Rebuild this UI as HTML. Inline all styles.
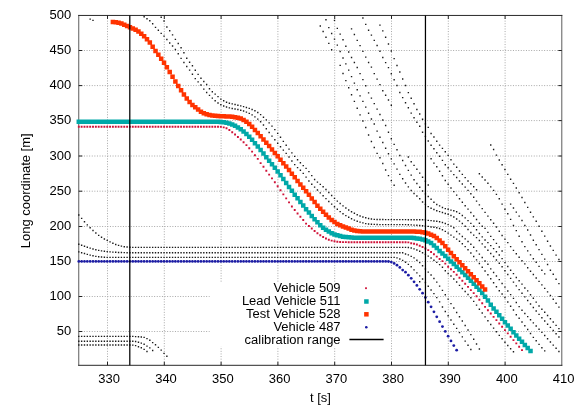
<!DOCTYPE html>
<html><head><meta charset="utf-8"><title>plot</title>
<style>html,body{margin:0;padding:0;background:#fff;}body{width:581px;height:407px;overflow:hidden;font-family:"Liberation Sans",sans-serif;}</style>
</head><body>
<svg width="581" height="407" viewBox="0 0 581 407" style="display:block;will-change:transform">
<rect x="0" y="0" width="581" height="407" fill="#fff"/>
<g stroke="#a8a8a8" stroke-width="1" stroke-dasharray="1,1.6" fill="none">
<line x1="107.50" y1="15.45" x2="107.50" y2="365.3"/>
<line x1="164.30" y1="15.45" x2="164.30" y2="365.3"/>
<line x1="221.10" y1="15.45" x2="221.10" y2="365.3"/>
<line x1="277.90" y1="15.45" x2="277.90" y2="365.3"/>
<line x1="334.70" y1="15.45" x2="334.70" y2="365.3"/>
<line x1="391.50" y1="15.45" x2="391.50" y2="365.3"/>
<line x1="448.30" y1="15.45" x2="448.30" y2="365.3"/>
<line x1="505.10" y1="15.45" x2="505.10" y2="365.3"/>
<line x1="78.75" y1="331.50" x2="561.8" y2="331.50"/>
<line x1="78.75" y1="296.50" x2="561.8" y2="296.50"/>
<line x1="78.75" y1="261.50" x2="561.8" y2="261.50"/>
<line x1="78.75" y1="226.50" x2="561.8" y2="226.50"/>
<line x1="78.75" y1="191.20" x2="561.8" y2="191.20"/>
<line x1="78.75" y1="156.00" x2="561.8" y2="156.00"/>
<line x1="78.75" y1="120.60" x2="561.8" y2="120.60"/>
<line x1="78.75" y1="85.60" x2="561.8" y2="85.60"/>
<line x1="78.75" y1="50.50" x2="561.8" y2="50.50"/>
</g>
<rect x="209.8" y="282.6" width="180.6" height="64.2" fill="#fff"/>
<rect x="297.55" y="294.35" width="0.9" height="0.9" fill="#555"/>
<rect x="299.95" y="296.85" width="0.9" height="0.9" fill="#555"/>
<rect x="303.05" y="300.55" width="0.9" height="0.9" fill="#555"/>
<rect x="317.15000000000003" y="321.15000000000003" width="0.9" height="0.9" fill="#555"/>
<rect x="320.25" y="326.85" width="0.9" height="0.9" fill="#555"/>
<g stroke="#222" stroke-width="1" fill="none">
<path d="M78.75 14.95V365.8M561.8 14.95V365.8" stroke="#5c5c5c"/><path d="M78.25 15.45H562.3M78.25 365.3H562.3" stroke="#2a2a2a"/>
<line x1="107.50" y1="365.3" x2="107.50" y2="361.8"/><line x1="107.50" y1="15.45" x2="107.50" y2="18.95"/>
<line x1="164.30" y1="365.3" x2="164.30" y2="361.8"/><line x1="164.30" y1="15.45" x2="164.30" y2="18.95"/>
<line x1="221.10" y1="365.3" x2="221.10" y2="361.8"/><line x1="221.10" y1="15.45" x2="221.10" y2="18.95"/>
<line x1="277.90" y1="365.3" x2="277.90" y2="361.8"/><line x1="277.90" y1="15.45" x2="277.90" y2="18.95"/>
<line x1="334.70" y1="365.3" x2="334.70" y2="361.8"/><line x1="334.70" y1="15.45" x2="334.70" y2="18.95"/>
<line x1="391.50" y1="365.3" x2="391.50" y2="361.8"/><line x1="391.50" y1="15.45" x2="391.50" y2="18.95"/>
<line x1="448.30" y1="365.3" x2="448.30" y2="361.8"/><line x1="448.30" y1="15.45" x2="448.30" y2="18.95"/>
<line x1="505.10" y1="365.3" x2="505.10" y2="361.8"/><line x1="505.10" y1="15.45" x2="505.10" y2="18.95"/>
<line x1="78.75" y1="331.50" x2="82.25" y2="331.50"/><line x1="561.8" y1="331.50" x2="558.3" y2="331.50"/>
<line x1="78.75" y1="296.50" x2="82.25" y2="296.50"/><line x1="561.8" y1="296.50" x2="558.3" y2="296.50"/>
<line x1="78.75" y1="261.50" x2="82.25" y2="261.50"/><line x1="561.8" y1="261.50" x2="558.3" y2="261.50"/>
<line x1="78.75" y1="226.50" x2="82.25" y2="226.50"/><line x1="561.8" y1="226.50" x2="558.3" y2="226.50"/>
<line x1="78.75" y1="191.20" x2="82.25" y2="191.20"/><line x1="561.8" y1="191.20" x2="558.3" y2="191.20"/>
<line x1="78.75" y1="156.00" x2="82.25" y2="156.00"/><line x1="561.8" y1="156.00" x2="558.3" y2="156.00"/>
<line x1="78.75" y1="120.60" x2="82.25" y2="120.60"/><line x1="561.8" y1="120.60" x2="558.3" y2="120.60"/>
<line x1="78.75" y1="85.60" x2="82.25" y2="85.60"/><line x1="561.8" y1="85.60" x2="558.3" y2="85.60"/>
<line x1="78.75" y1="50.50" x2="82.25" y2="50.50"/><line x1="561.8" y1="50.50" x2="558.3" y2="50.50"/>
</g>
<path d="M78.10 214.30h1.4v1.4h-1.4zM80.94 217.70h1.4v1.4h-1.4zM83.78 220.98h1.4v1.4h-1.4zM86.62 224.14h1.4v1.4h-1.4zM89.46 227.06h1.4v1.4h-1.4zM92.30 229.79h1.4v1.4h-1.4zM95.15 232.36h1.4v1.4h-1.4zM97.99 234.66h1.4v1.4h-1.4zM100.83 236.59h1.4v1.4h-1.4zM103.67 238.23h1.4v1.4h-1.4zM106.51 239.70h1.4v1.4h-1.4zM109.35 241.16h1.4v1.4h-1.4zM112.19 242.57h1.4v1.4h-1.4zM115.03 243.79h1.4v1.4h-1.4zM117.87 244.67h1.4v1.4h-1.4zM120.71 245.40h1.4v1.4h-1.4zM123.56 245.99h1.4v1.4h-1.4zM126.40 246.36h1.4v1.4h-1.4zM129.24 246.54h1.4v1.4h-1.4zM132.08 246.67h1.4v1.4h-1.4zM134.92 246.70h1.4v1.4h-1.4zM137.76 246.70h1.4v1.4h-1.4zM140.60 246.70h1.4v1.4h-1.4zM143.44 246.70h1.4v1.4h-1.4zM146.28 246.70h1.4v1.4h-1.4zM149.12 246.70h1.4v1.4h-1.4zM151.97 246.70h1.4v1.4h-1.4zM154.81 246.70h1.4v1.4h-1.4zM157.65 246.70h1.4v1.4h-1.4zM160.49 246.70h1.4v1.4h-1.4zM163.33 246.70h1.4v1.4h-1.4zM166.17 246.70h1.4v1.4h-1.4zM169.01 246.70h1.4v1.4h-1.4zM171.85 246.70h1.4v1.4h-1.4zM174.69 246.70h1.4v1.4h-1.4zM177.54 246.70h1.4v1.4h-1.4zM180.38 246.70h1.4v1.4h-1.4zM183.22 246.70h1.4v1.4h-1.4zM186.06 246.70h1.4v1.4h-1.4zM188.90 246.70h1.4v1.4h-1.4zM191.74 246.70h1.4v1.4h-1.4zM194.58 246.70h1.4v1.4h-1.4zM197.42 246.70h1.4v1.4h-1.4zM200.26 246.70h1.4v1.4h-1.4zM203.10 246.70h1.4v1.4h-1.4zM205.95 246.70h1.4v1.4h-1.4zM208.79 246.70h1.4v1.4h-1.4zM211.63 246.70h1.4v1.4h-1.4zM214.47 246.70h1.4v1.4h-1.4zM217.31 246.70h1.4v1.4h-1.4zM220.15 246.70h1.4v1.4h-1.4zM222.99 246.70h1.4v1.4h-1.4zM225.83 246.70h1.4v1.4h-1.4zM228.67 246.70h1.4v1.4h-1.4zM231.51 246.70h1.4v1.4h-1.4zM234.36 246.70h1.4v1.4h-1.4zM237.20 246.70h1.4v1.4h-1.4zM240.04 246.70h1.4v1.4h-1.4zM242.88 246.70h1.4v1.4h-1.4zM245.72 246.70h1.4v1.4h-1.4zM248.56 246.70h1.4v1.4h-1.4zM251.40 246.70h1.4v1.4h-1.4zM254.24 246.70h1.4v1.4h-1.4zM257.08 246.70h1.4v1.4h-1.4zM259.92 246.70h1.4v1.4h-1.4zM262.77 246.70h1.4v1.4h-1.4zM265.61 246.70h1.4v1.4h-1.4zM268.45 246.70h1.4v1.4h-1.4zM271.29 246.70h1.4v1.4h-1.4zM274.13 246.70h1.4v1.4h-1.4zM276.97 246.70h1.4v1.4h-1.4zM279.81 246.70h1.4v1.4h-1.4zM282.65 246.70h1.4v1.4h-1.4zM285.49 246.70h1.4v1.4h-1.4zM288.33 246.70h1.4v1.4h-1.4zM291.18 246.70h1.4v1.4h-1.4zM294.02 246.70h1.4v1.4h-1.4zM296.86 246.70h1.4v1.4h-1.4zM299.70 246.70h1.4v1.4h-1.4zM302.54 246.70h1.4v1.4h-1.4zM305.38 246.70h1.4v1.4h-1.4zM308.22 246.70h1.4v1.4h-1.4zM311.06 246.70h1.4v1.4h-1.4zM313.90 246.70h1.4v1.4h-1.4zM316.74 246.70h1.4v1.4h-1.4zM319.59 246.70h1.4v1.4h-1.4zM322.43 246.70h1.4v1.4h-1.4zM325.27 246.70h1.4v1.4h-1.4zM328.11 246.70h1.4v1.4h-1.4zM330.95 246.70h1.4v1.4h-1.4zM333.79 246.70h1.4v1.4h-1.4zM336.63 246.70h1.4v1.4h-1.4zM339.47 246.70h1.4v1.4h-1.4zM342.31 246.70h1.4v1.4h-1.4zM345.15 246.70h1.4v1.4h-1.4zM348.00 246.70h1.4v1.4h-1.4zM350.84 246.70h1.4v1.4h-1.4zM353.68 246.70h1.4v1.4h-1.4zM356.52 246.70h1.4v1.4h-1.4zM359.36 246.70h1.4v1.4h-1.4zM362.20 246.70h1.4v1.4h-1.4zM365.04 246.70h1.4v1.4h-1.4zM367.88 246.70h1.4v1.4h-1.4zM370.72 246.70h1.4v1.4h-1.4zM373.56 246.70h1.4v1.4h-1.4zM376.41 246.70h1.4v1.4h-1.4zM379.25 246.70h1.4v1.4h-1.4zM382.09 246.70h1.4v1.4h-1.4zM384.93 246.70h1.4v1.4h-1.4zM387.77 246.70h1.4v1.4h-1.4zM390.61 246.70h1.4v1.4h-1.4zM393.45 246.70h1.4v1.4h-1.4zM396.29 246.70h1.4v1.4h-1.4zM399.13 246.70h1.4v1.4h-1.4zM401.97 246.70h1.4v1.4h-1.4zM404.82 246.70h1.4v1.4h-1.4zM407.66 246.73h1.4v1.4h-1.4zM410.50 247.28h1.4v1.4h-1.4zM413.34 248.18h1.4v1.4h-1.4zM416.18 249.35h1.4v1.4h-1.4zM419.02 250.56h1.4v1.4h-1.4zM421.86 252.03h1.4v1.4h-1.4zM424.70 253.67h1.4v1.4h-1.4zM427.54 255.43h1.4v1.4h-1.4zM430.38 257.32h1.4v1.4h-1.4zM433.23 259.54h1.4v1.4h-1.4zM436.07 261.70h1.4v1.4h-1.4zM438.91 263.94h1.4v1.4h-1.4zM441.75 266.54h1.4v1.4h-1.4zM444.59 270.00h1.4v1.4h-1.4zM447.43 272.82h1.4v1.4h-1.4zM450.27 275.37h1.4v1.4h-1.4zM453.11 278.31h1.4v1.4h-1.4zM455.95 281.36h1.4v1.4h-1.4zM458.79 284.69h1.4v1.4h-1.4zM461.64 287.79h1.4v1.4h-1.4zM464.48 290.80h1.4v1.4h-1.4zM467.32 293.80h1.4v1.4h-1.4zM470.16 297.10h1.4v1.4h-1.4zM473.00 300.70h1.4v1.4h-1.4zM475.84 304.40h1.4v1.4h-1.4zM478.68 308.50h1.4v1.4h-1.4zM481.52 312.37h1.4v1.4h-1.4zM484.36 316.21h1.4v1.4h-1.4zM487.20 320.00h1.4v1.4h-1.4zM490.05 323.75h1.4v1.4h-1.4zM492.89 327.44h1.4v1.4h-1.4zM495.73 331.07h1.4v1.4h-1.4zM498.57 334.63h1.4v1.4h-1.4zM501.41 338.10h1.4v1.4h-1.4zM504.25 341.50h1.4v1.4h-1.4zM507.09 344.80h1.4v1.4h-1.4zM509.93 348.01h1.4v1.4h-1.4zM512.77 351.10h1.4v1.4h-1.4zM78.10 243.60h1.4v1.4h-1.4zM80.94 244.51h1.4v1.4h-1.4zM83.78 245.52h1.4v1.4h-1.4zM86.62 246.54h1.4v1.4h-1.4zM89.46 247.45h1.4v1.4h-1.4zM92.30 248.26h1.4v1.4h-1.4zM95.15 249.01h1.4v1.4h-1.4zM97.99 249.66h1.4v1.4h-1.4zM100.83 250.15h1.4v1.4h-1.4zM103.67 250.58h1.4v1.4h-1.4zM106.51 250.93h1.4v1.4h-1.4zM109.35 251.20h1.4v1.4h-1.4zM112.19 251.42h1.4v1.4h-1.4zM115.03 251.61h1.4v1.4h-1.4zM117.87 251.75h1.4v1.4h-1.4zM120.71 251.84h1.4v1.4h-1.4zM123.56 251.92h1.4v1.4h-1.4zM126.40 251.98h1.4v1.4h-1.4zM129.24 252.00h1.4v1.4h-1.4zM132.08 252.00h1.4v1.4h-1.4zM134.92 252.00h1.4v1.4h-1.4zM137.76 252.00h1.4v1.4h-1.4zM140.60 252.00h1.4v1.4h-1.4zM143.44 252.00h1.4v1.4h-1.4zM146.28 252.00h1.4v1.4h-1.4zM149.12 252.00h1.4v1.4h-1.4zM151.97 252.00h1.4v1.4h-1.4zM154.81 252.00h1.4v1.4h-1.4zM157.65 252.00h1.4v1.4h-1.4zM160.49 252.00h1.4v1.4h-1.4zM163.33 252.00h1.4v1.4h-1.4zM166.17 252.00h1.4v1.4h-1.4zM169.01 252.00h1.4v1.4h-1.4zM171.85 252.00h1.4v1.4h-1.4zM174.69 252.00h1.4v1.4h-1.4zM177.54 252.00h1.4v1.4h-1.4zM180.38 252.00h1.4v1.4h-1.4zM183.22 252.00h1.4v1.4h-1.4zM186.06 252.00h1.4v1.4h-1.4zM188.90 252.00h1.4v1.4h-1.4zM191.74 252.00h1.4v1.4h-1.4zM194.58 252.00h1.4v1.4h-1.4zM197.42 252.00h1.4v1.4h-1.4zM200.26 252.00h1.4v1.4h-1.4zM203.10 252.00h1.4v1.4h-1.4zM205.95 252.00h1.4v1.4h-1.4zM208.79 252.00h1.4v1.4h-1.4zM211.63 252.00h1.4v1.4h-1.4zM214.47 252.00h1.4v1.4h-1.4zM217.31 252.00h1.4v1.4h-1.4zM220.15 252.00h1.4v1.4h-1.4zM222.99 252.00h1.4v1.4h-1.4zM225.83 252.00h1.4v1.4h-1.4zM228.67 252.00h1.4v1.4h-1.4zM231.51 252.00h1.4v1.4h-1.4zM234.36 252.00h1.4v1.4h-1.4zM237.20 252.00h1.4v1.4h-1.4zM240.04 252.00h1.4v1.4h-1.4zM242.88 252.00h1.4v1.4h-1.4zM245.72 252.00h1.4v1.4h-1.4zM248.56 252.00h1.4v1.4h-1.4zM251.40 252.00h1.4v1.4h-1.4zM254.24 252.00h1.4v1.4h-1.4zM257.08 252.00h1.4v1.4h-1.4zM259.92 252.00h1.4v1.4h-1.4zM262.77 252.00h1.4v1.4h-1.4zM265.61 252.00h1.4v1.4h-1.4zM268.45 252.00h1.4v1.4h-1.4zM271.29 252.00h1.4v1.4h-1.4zM274.13 252.00h1.4v1.4h-1.4zM276.97 252.00h1.4v1.4h-1.4zM279.81 252.00h1.4v1.4h-1.4zM282.65 252.00h1.4v1.4h-1.4zM285.49 252.00h1.4v1.4h-1.4zM288.33 252.00h1.4v1.4h-1.4zM291.18 252.00h1.4v1.4h-1.4zM294.02 252.00h1.4v1.4h-1.4zM296.86 252.00h1.4v1.4h-1.4zM299.70 252.00h1.4v1.4h-1.4zM302.54 252.00h1.4v1.4h-1.4zM305.38 252.00h1.4v1.4h-1.4zM308.22 252.00h1.4v1.4h-1.4zM311.06 252.00h1.4v1.4h-1.4zM313.90 252.00h1.4v1.4h-1.4zM316.74 252.00h1.4v1.4h-1.4zM319.59 252.00h1.4v1.4h-1.4zM322.43 252.00h1.4v1.4h-1.4zM325.27 252.00h1.4v1.4h-1.4zM328.11 252.00h1.4v1.4h-1.4zM330.95 252.00h1.4v1.4h-1.4zM333.79 252.00h1.4v1.4h-1.4zM336.63 252.00h1.4v1.4h-1.4zM339.47 252.00h1.4v1.4h-1.4zM342.31 252.00h1.4v1.4h-1.4zM345.15 252.00h1.4v1.4h-1.4zM348.00 252.00h1.4v1.4h-1.4zM350.84 252.00h1.4v1.4h-1.4zM353.68 252.00h1.4v1.4h-1.4zM356.52 252.00h1.4v1.4h-1.4zM359.36 252.00h1.4v1.4h-1.4zM362.20 252.00h1.4v1.4h-1.4zM365.04 252.00h1.4v1.4h-1.4zM367.88 252.00h1.4v1.4h-1.4zM370.72 252.00h1.4v1.4h-1.4zM373.56 252.00h1.4v1.4h-1.4zM376.41 252.00h1.4v1.4h-1.4zM379.25 252.00h1.4v1.4h-1.4zM382.09 252.00h1.4v1.4h-1.4zM384.93 252.00h1.4v1.4h-1.4zM387.77 252.00h1.4v1.4h-1.4zM390.61 252.00h1.4v1.4h-1.4zM393.45 252.00h1.4v1.4h-1.4zM396.29 252.00h1.4v1.4h-1.4zM399.13 252.00h1.4v1.4h-1.4zM401.97 252.10h1.4v1.4h-1.4zM404.82 253.37h1.4v1.4h-1.4zM407.66 254.22h1.4v1.4h-1.4zM410.50 255.65h1.4v1.4h-1.4zM413.34 257.16h1.4v1.4h-1.4zM416.18 259.50h1.4v1.4h-1.4zM419.02 261.92h1.4v1.4h-1.4zM421.86 265.07h1.4v1.4h-1.4zM424.70 268.31h1.4v1.4h-1.4zM427.54 271.45h1.4v1.4h-1.4zM430.38 274.27h1.4v1.4h-1.4zM433.23 277.81h1.4v1.4h-1.4zM436.07 281.42h1.4v1.4h-1.4zM438.91 285.41h1.4v1.4h-1.4zM441.75 289.63h1.4v1.4h-1.4zM444.59 293.99h1.4v1.4h-1.4zM447.43 298.40h1.4v1.4h-1.4zM450.27 302.91h1.4v1.4h-1.4zM453.11 307.32h1.4v1.4h-1.4zM455.95 311.78h1.4v1.4h-1.4zM458.79 315.99h1.4v1.4h-1.4zM461.64 320.37h1.4v1.4h-1.4zM464.48 324.81h1.4v1.4h-1.4zM467.32 329.32h1.4v1.4h-1.4zM470.16 333.90h1.4v1.4h-1.4zM473.00 338.59h1.4v1.4h-1.4zM475.84 343.37h1.4v1.4h-1.4zM478.68 348.27h1.4v1.4h-1.4zM78.10 251.20h1.4v1.4h-1.4zM80.94 252.00h1.4v1.4h-1.4zM83.78 252.86h1.4v1.4h-1.4zM86.62 253.71h1.4v1.4h-1.4zM89.46 254.44h1.4v1.4h-1.4zM92.30 255.07h1.4v1.4h-1.4zM95.15 255.64h1.4v1.4h-1.4zM97.99 256.07h1.4v1.4h-1.4zM100.83 256.32h1.4v1.4h-1.4zM103.67 256.51h1.4v1.4h-1.4zM106.51 256.65h1.4v1.4h-1.4zM109.35 256.70h1.4v1.4h-1.4zM112.19 256.70h1.4v1.4h-1.4zM115.03 256.70h1.4v1.4h-1.4zM117.87 256.70h1.4v1.4h-1.4zM120.71 256.70h1.4v1.4h-1.4zM123.56 256.70h1.4v1.4h-1.4zM126.40 256.70h1.4v1.4h-1.4zM129.24 256.70h1.4v1.4h-1.4zM132.08 256.70h1.4v1.4h-1.4zM134.92 256.70h1.4v1.4h-1.4zM137.76 256.70h1.4v1.4h-1.4zM140.60 256.70h1.4v1.4h-1.4zM143.44 256.70h1.4v1.4h-1.4zM146.28 256.70h1.4v1.4h-1.4zM149.12 256.70h1.4v1.4h-1.4zM151.97 256.70h1.4v1.4h-1.4zM154.81 256.70h1.4v1.4h-1.4zM157.65 256.70h1.4v1.4h-1.4zM160.49 256.70h1.4v1.4h-1.4zM163.33 256.70h1.4v1.4h-1.4zM166.17 256.70h1.4v1.4h-1.4zM169.01 256.70h1.4v1.4h-1.4zM171.85 256.70h1.4v1.4h-1.4zM174.69 256.70h1.4v1.4h-1.4zM177.54 256.70h1.4v1.4h-1.4zM180.38 256.70h1.4v1.4h-1.4zM183.22 256.70h1.4v1.4h-1.4zM186.06 256.70h1.4v1.4h-1.4zM188.90 256.70h1.4v1.4h-1.4zM191.74 256.70h1.4v1.4h-1.4zM194.58 256.70h1.4v1.4h-1.4zM197.42 256.70h1.4v1.4h-1.4zM200.26 256.70h1.4v1.4h-1.4zM203.10 256.70h1.4v1.4h-1.4zM205.95 256.70h1.4v1.4h-1.4zM208.79 256.70h1.4v1.4h-1.4zM211.63 256.70h1.4v1.4h-1.4zM214.47 256.70h1.4v1.4h-1.4zM217.31 256.70h1.4v1.4h-1.4zM220.15 256.70h1.4v1.4h-1.4zM222.99 256.70h1.4v1.4h-1.4zM225.83 256.70h1.4v1.4h-1.4zM228.67 256.70h1.4v1.4h-1.4zM231.51 256.70h1.4v1.4h-1.4zM234.36 256.70h1.4v1.4h-1.4zM237.20 256.70h1.4v1.4h-1.4zM240.04 256.70h1.4v1.4h-1.4zM242.88 256.70h1.4v1.4h-1.4zM245.72 256.70h1.4v1.4h-1.4zM248.56 256.70h1.4v1.4h-1.4zM251.40 256.70h1.4v1.4h-1.4zM254.24 256.70h1.4v1.4h-1.4zM257.08 256.70h1.4v1.4h-1.4zM259.92 256.70h1.4v1.4h-1.4zM262.77 256.70h1.4v1.4h-1.4zM265.61 256.70h1.4v1.4h-1.4zM268.45 256.70h1.4v1.4h-1.4zM271.29 256.70h1.4v1.4h-1.4zM274.13 256.70h1.4v1.4h-1.4zM276.97 256.70h1.4v1.4h-1.4zM279.81 256.70h1.4v1.4h-1.4zM282.65 256.70h1.4v1.4h-1.4zM285.49 256.70h1.4v1.4h-1.4zM288.33 256.70h1.4v1.4h-1.4zM291.18 256.70h1.4v1.4h-1.4zM294.02 256.70h1.4v1.4h-1.4zM296.86 256.70h1.4v1.4h-1.4zM299.70 256.70h1.4v1.4h-1.4zM302.54 256.70h1.4v1.4h-1.4zM305.38 256.70h1.4v1.4h-1.4zM308.22 256.70h1.4v1.4h-1.4zM311.06 256.70h1.4v1.4h-1.4zM313.90 256.70h1.4v1.4h-1.4zM316.74 256.70h1.4v1.4h-1.4zM319.59 256.70h1.4v1.4h-1.4zM322.43 256.70h1.4v1.4h-1.4zM325.27 256.70h1.4v1.4h-1.4zM328.11 256.70h1.4v1.4h-1.4zM330.95 256.70h1.4v1.4h-1.4zM333.79 256.70h1.4v1.4h-1.4zM336.63 256.70h1.4v1.4h-1.4zM339.47 256.70h1.4v1.4h-1.4zM342.31 256.70h1.4v1.4h-1.4zM345.15 256.70h1.4v1.4h-1.4zM348.00 256.70h1.4v1.4h-1.4zM350.84 256.70h1.4v1.4h-1.4zM353.68 256.70h1.4v1.4h-1.4zM356.52 256.70h1.4v1.4h-1.4zM359.36 256.70h1.4v1.4h-1.4zM362.20 256.70h1.4v1.4h-1.4zM365.04 256.70h1.4v1.4h-1.4zM367.88 256.70h1.4v1.4h-1.4zM370.72 256.70h1.4v1.4h-1.4zM373.56 256.70h1.4v1.4h-1.4zM376.41 256.70h1.4v1.4h-1.4zM379.25 256.70h1.4v1.4h-1.4zM382.09 256.70h1.4v1.4h-1.4zM384.93 256.70h1.4v1.4h-1.4zM387.77 256.70h1.4v1.4h-1.4zM390.61 256.70h1.4v1.4h-1.4zM393.45 256.70h1.4v1.4h-1.4zM396.29 257.22h1.4v1.4h-1.4zM399.13 258.30h1.4v1.4h-1.4zM401.97 259.70h1.4v1.4h-1.4zM404.82 261.55h1.4v1.4h-1.4zM407.66 263.64h1.4v1.4h-1.4zM410.50 266.10h1.4v1.4h-1.4zM413.34 269.13h1.4v1.4h-1.4zM416.18 272.17h1.4v1.4h-1.4zM419.02 275.21h1.4v1.4h-1.4zM421.86 278.37h1.4v1.4h-1.4zM424.70 281.84h1.4v1.4h-1.4zM427.54 285.49h1.4v1.4h-1.4zM430.38 289.31h1.4v1.4h-1.4zM433.23 292.97h1.4v1.4h-1.4zM436.07 296.90h1.4v1.4h-1.4zM438.91 301.21h1.4v1.4h-1.4zM441.75 306.25h1.4v1.4h-1.4zM444.59 310.74h1.4v1.4h-1.4zM447.43 314.99h1.4v1.4h-1.4zM450.27 319.24h1.4v1.4h-1.4zM453.11 323.48h1.4v1.4h-1.4zM455.95 327.72h1.4v1.4h-1.4zM458.79 331.95h1.4v1.4h-1.4zM461.64 336.17h1.4v1.4h-1.4zM464.48 340.39h1.4v1.4h-1.4zM467.32 344.60h1.4v1.4h-1.4zM470.16 348.80h1.4v1.4h-1.4zM419.02 281.00h1.4v1.4h-1.4zM78.10 335.70h1.4v1.4h-1.4zM80.94 335.70h1.4v1.4h-1.4zM83.78 335.70h1.4v1.4h-1.4zM86.62 335.70h1.4v1.4h-1.4zM89.46 335.70h1.4v1.4h-1.4zM92.30 335.70h1.4v1.4h-1.4zM95.15 335.70h1.4v1.4h-1.4zM97.99 335.70h1.4v1.4h-1.4zM100.83 335.70h1.4v1.4h-1.4zM103.67 335.70h1.4v1.4h-1.4zM106.51 335.70h1.4v1.4h-1.4zM109.35 335.70h1.4v1.4h-1.4zM112.19 335.70h1.4v1.4h-1.4zM115.03 335.70h1.4v1.4h-1.4zM117.87 335.70h1.4v1.4h-1.4zM120.71 335.70h1.4v1.4h-1.4zM123.56 335.70h1.4v1.4h-1.4zM126.40 335.70h1.4v1.4h-1.4zM129.24 335.70h1.4v1.4h-1.4zM132.08 335.71h1.4v1.4h-1.4zM134.92 335.92h1.4v1.4h-1.4zM137.76 336.11h1.4v1.4h-1.4zM140.60 336.30h1.4v1.4h-1.4zM143.44 336.71h1.4v1.4h-1.4zM146.28 337.89h1.4v1.4h-1.4zM149.12 339.62h1.4v1.4h-1.4zM151.97 341.93h1.4v1.4h-1.4zM154.81 343.99h1.4v1.4h-1.4zM157.65 346.65h1.4v1.4h-1.4zM160.49 349.39h1.4v1.4h-1.4zM163.33 352.63h1.4v1.4h-1.4zM166.17 355.57h1.4v1.4h-1.4zM78.10 340.60h1.4v1.4h-1.4zM80.94 340.60h1.4v1.4h-1.4zM83.78 340.60h1.4v1.4h-1.4zM86.62 340.60h1.4v1.4h-1.4zM89.46 340.60h1.4v1.4h-1.4zM92.30 340.60h1.4v1.4h-1.4zM95.15 340.60h1.4v1.4h-1.4zM97.99 340.60h1.4v1.4h-1.4zM100.83 340.60h1.4v1.4h-1.4zM103.67 340.60h1.4v1.4h-1.4zM106.51 340.60h1.4v1.4h-1.4zM109.35 340.60h1.4v1.4h-1.4zM112.19 340.60h1.4v1.4h-1.4zM115.03 340.60h1.4v1.4h-1.4zM117.87 340.60h1.4v1.4h-1.4zM120.71 340.60h1.4v1.4h-1.4zM123.56 340.60h1.4v1.4h-1.4zM126.40 340.60h1.4v1.4h-1.4zM129.24 340.60h1.4v1.4h-1.4zM132.08 340.61h1.4v1.4h-1.4zM134.92 340.84h1.4v1.4h-1.4zM137.76 341.54h1.4v1.4h-1.4zM140.60 342.40h1.4v1.4h-1.4zM143.44 343.62h1.4v1.4h-1.4zM146.28 345.39h1.4v1.4h-1.4zM149.12 347.22h1.4v1.4h-1.4zM151.97 349.75h1.4v1.4h-1.4zM78.10 344.30h1.4v1.4h-1.4zM80.94 344.30h1.4v1.4h-1.4zM83.78 344.30h1.4v1.4h-1.4zM86.62 344.30h1.4v1.4h-1.4zM89.46 344.30h1.4v1.4h-1.4zM92.30 344.30h1.4v1.4h-1.4zM95.15 344.30h1.4v1.4h-1.4zM97.99 344.30h1.4v1.4h-1.4zM100.83 344.30h1.4v1.4h-1.4zM103.67 344.30h1.4v1.4h-1.4zM106.51 344.30h1.4v1.4h-1.4zM109.35 344.30h1.4v1.4h-1.4zM112.19 344.30h1.4v1.4h-1.4zM115.03 344.30h1.4v1.4h-1.4zM117.87 344.30h1.4v1.4h-1.4zM120.71 344.30h1.4v1.4h-1.4zM123.56 344.30h1.4v1.4h-1.4zM126.40 344.30h1.4v1.4h-1.4zM129.24 344.30h1.4v1.4h-1.4zM132.08 344.43h1.4v1.4h-1.4zM134.92 344.88h1.4v1.4h-1.4zM137.76 346.06h1.4v1.4h-1.4zM140.60 347.00h1.4v1.4h-1.4zM143.44 348.63h1.4v1.4h-1.4zM146.28 350.79h1.4v1.4h-1.4zM89.46 18.45h1.4v1.4h-1.4zM92.30 19.70h1.4v1.4h-1.4zM143.44 16.00h1.4v1.4h-1.4zM146.28 18.03h1.4v1.4h-1.4zM149.12 20.11h1.4v1.4h-1.4zM151.97 23.08h1.4v1.4h-1.4zM154.81 26.71h1.4v1.4h-1.4zM157.65 29.55h1.4v1.4h-1.4zM160.49 32.69h1.4v1.4h-1.4zM163.33 35.43h1.4v1.4h-1.4zM166.17 38.76h1.4v1.4h-1.4zM169.01 42.31h1.4v1.4h-1.4zM171.85 45.35h1.4v1.4h-1.4zM174.69 48.86h1.4v1.4h-1.4zM177.54 53.00h1.4v1.4h-1.4zM180.38 57.66h1.4v1.4h-1.4zM183.22 61.82h1.4v1.4h-1.4zM186.06 65.78h1.4v1.4h-1.4zM188.90 69.40h1.4v1.4h-1.4zM191.74 73.51h1.4v1.4h-1.4zM194.58 77.91h1.4v1.4h-1.4zM197.42 81.22h1.4v1.4h-1.4zM200.26 84.35h1.4v1.4h-1.4zM203.10 88.41h1.4v1.4h-1.4zM205.95 91.84h1.4v1.4h-1.4zM208.79 94.69h1.4v1.4h-1.4zM211.63 97.43h1.4v1.4h-1.4zM214.47 100.07h1.4v1.4h-1.4zM217.31 102.31h1.4v1.4h-1.4zM220.15 104.08h1.4v1.4h-1.4zM222.99 105.30h1.4v1.4h-1.4zM225.83 106.31h1.4v1.4h-1.4zM228.67 107.14h1.4v1.4h-1.4zM231.51 107.79h1.4v1.4h-1.4zM234.36 108.30h1.4v1.4h-1.4zM237.20 108.82h1.4v1.4h-1.4zM240.04 109.50h1.4v1.4h-1.4zM242.88 110.37h1.4v1.4h-1.4zM245.72 111.43h1.4v1.4h-1.4zM248.56 112.69h1.4v1.4h-1.4zM251.40 114.21h1.4v1.4h-1.4zM254.24 116.14h1.4v1.4h-1.4zM257.08 118.43h1.4v1.4h-1.4zM259.92 121.01h1.4v1.4h-1.4zM262.77 124.24h1.4v1.4h-1.4zM265.61 128.00h1.4v1.4h-1.4zM268.45 131.85h1.4v1.4h-1.4zM271.29 135.45h1.4v1.4h-1.4zM274.13 139.04h1.4v1.4h-1.4zM276.97 142.59h1.4v1.4h-1.4zM279.81 146.07h1.4v1.4h-1.4zM282.65 149.39h1.4v1.4h-1.4zM285.49 152.71h1.4v1.4h-1.4zM288.33 156.30h1.4v1.4h-1.4zM291.18 160.23h1.4v1.4h-1.4zM294.02 163.94h1.4v1.4h-1.4zM296.86 166.94h1.4v1.4h-1.4zM299.70 169.62h1.4v1.4h-1.4zM302.54 172.65h1.4v1.4h-1.4zM305.38 176.42h1.4v1.4h-1.4zM308.22 180.31h1.4v1.4h-1.4zM311.06 183.60h1.4v1.4h-1.4zM313.90 186.46h1.4v1.4h-1.4zM316.74 189.24h1.4v1.4h-1.4zM319.59 192.13h1.4v1.4h-1.4zM322.43 195.05h1.4v1.4h-1.4zM325.27 197.95h1.4v1.4h-1.4zM328.11 200.77h1.4v1.4h-1.4zM330.95 203.45h1.4v1.4h-1.4zM333.79 205.99h1.4v1.4h-1.4zM336.63 208.50h1.4v1.4h-1.4zM339.47 210.88h1.4v1.4h-1.4zM342.31 213.05h1.4v1.4h-1.4zM345.15 214.90h1.4v1.4h-1.4zM348.00 216.58h1.4v1.4h-1.4zM350.84 218.12h1.4v1.4h-1.4zM353.68 219.47h1.4v1.4h-1.4zM356.52 220.55h1.4v1.4h-1.4zM359.36 221.42h1.4v1.4h-1.4zM362.20 222.22h1.4v1.4h-1.4zM365.04 222.89h1.4v1.4h-1.4zM367.88 223.35h1.4v1.4h-1.4zM370.72 223.56h1.4v1.4h-1.4zM373.56 223.70h1.4v1.4h-1.4zM376.41 223.81h1.4v1.4h-1.4zM379.25 223.88h1.4v1.4h-1.4zM382.09 223.90h1.4v1.4h-1.4zM384.93 223.90h1.4v1.4h-1.4zM387.77 223.90h1.4v1.4h-1.4zM390.61 223.90h1.4v1.4h-1.4zM393.45 223.90h1.4v1.4h-1.4zM396.29 223.90h1.4v1.4h-1.4zM399.13 223.90h1.4v1.4h-1.4zM401.97 223.90h1.4v1.4h-1.4zM404.82 223.90h1.4v1.4h-1.4zM407.66 224.03h1.4v1.4h-1.4zM410.50 224.21h1.4v1.4h-1.4zM413.34 224.39h1.4v1.4h-1.4zM416.18 224.59h1.4v1.4h-1.4zM419.02 224.83h1.4v1.4h-1.4zM421.86 225.10h1.4v1.4h-1.4zM424.70 225.35h1.4v1.4h-1.4zM427.54 225.68h1.4v1.4h-1.4zM430.38 226.30h1.4v1.4h-1.4zM433.23 226.59h1.4v1.4h-1.4zM436.07 227.09h1.4v1.4h-1.4zM438.91 227.87h1.4v1.4h-1.4zM441.75 229.06h1.4v1.4h-1.4zM444.59 230.63h1.4v1.4h-1.4zM447.43 232.45h1.4v1.4h-1.4zM450.27 234.43h1.4v1.4h-1.4zM453.11 236.47h1.4v1.4h-1.4zM455.95 238.47h1.4v1.4h-1.4zM458.79 240.52h1.4v1.4h-1.4zM461.64 243.03h1.4v1.4h-1.4zM464.48 245.97h1.4v1.4h-1.4zM467.32 249.02h1.4v1.4h-1.4zM470.16 252.35h1.4v1.4h-1.4zM473.00 255.78h1.4v1.4h-1.4zM475.84 259.13h1.4v1.4h-1.4zM478.68 262.74h1.4v1.4h-1.4zM481.52 266.53h1.4v1.4h-1.4zM484.36 270.25h1.4v1.4h-1.4zM487.20 274.10h1.4v1.4h-1.4zM490.05 278.02h1.4v1.4h-1.4zM492.89 281.99h1.4v1.4h-1.4zM495.73 285.98h1.4v1.4h-1.4zM498.57 289.99h1.4v1.4h-1.4zM501.41 293.33h1.4v1.4h-1.4zM504.25 296.87h1.4v1.4h-1.4zM507.09 301.24h1.4v1.4h-1.4zM509.93 305.49h1.4v1.4h-1.4zM512.77 309.36h1.4v1.4h-1.4zM515.61 314.06h1.4v1.4h-1.4zM518.45 317.57h1.4v1.4h-1.4zM521.30 321.23h1.4v1.4h-1.4zM524.14 325.05h1.4v1.4h-1.4zM526.98 328.77h1.4v1.4h-1.4zM529.82 332.83h1.4v1.4h-1.4zM532.66 336.68h1.4v1.4h-1.4zM535.50 340.00h1.4v1.4h-1.4zM538.34 343.65h1.4v1.4h-1.4zM541.18 346.98h1.4v1.4h-1.4zM544.02 350.21h1.4v1.4h-1.4zM160.49 16.55h1.4v1.4h-1.4zM163.33 20.35h1.4v1.4h-1.4zM166.17 26.35h1.4v1.4h-1.4zM169.01 30.02h1.4v1.4h-1.4zM171.85 34.13h1.4v1.4h-1.4zM174.69 38.64h1.4v1.4h-1.4zM177.54 42.80h1.4v1.4h-1.4zM180.38 47.06h1.4v1.4h-1.4zM183.22 52.03h1.4v1.4h-1.4zM186.06 57.59h1.4v1.4h-1.4zM188.90 61.50h1.4v1.4h-1.4zM191.74 65.02h1.4v1.4h-1.4zM194.58 69.52h1.4v1.4h-1.4zM197.42 73.63h1.4v1.4h-1.4zM200.26 77.55h1.4v1.4h-1.4zM203.10 80.80h1.4v1.4h-1.4zM205.95 83.73h1.4v1.4h-1.4zM208.79 87.98h1.4v1.4h-1.4zM211.63 91.03h1.4v1.4h-1.4zM214.47 93.47h1.4v1.4h-1.4zM217.31 95.91h1.4v1.4h-1.4zM220.15 98.46h1.4v1.4h-1.4zM222.99 100.10h1.4v1.4h-1.4zM225.83 101.61h1.4v1.4h-1.4zM228.67 102.49h1.4v1.4h-1.4zM231.51 103.15h1.4v1.4h-1.4zM234.36 103.81h1.4v1.4h-1.4zM237.20 104.50h1.4v1.4h-1.4zM240.04 105.17h1.4v1.4h-1.4zM242.88 105.89h1.4v1.4h-1.4zM245.72 106.73h1.4v1.4h-1.4zM248.56 107.66h1.4v1.4h-1.4zM251.40 108.73h1.4v1.4h-1.4zM254.24 110.02h1.4v1.4h-1.4zM257.08 111.74h1.4v1.4h-1.4zM259.92 113.96h1.4v1.4h-1.4zM262.77 116.49h1.4v1.4h-1.4zM265.61 119.16h1.4v1.4h-1.4zM268.45 122.17h1.4v1.4h-1.4zM271.29 125.46h1.4v1.4h-1.4zM274.13 128.94h1.4v1.4h-1.4zM276.97 132.63h1.4v1.4h-1.4zM279.81 136.60h1.4v1.4h-1.4zM282.65 140.64h1.4v1.4h-1.4zM285.49 144.55h1.4v1.4h-1.4zM288.33 148.44h1.4v1.4h-1.4zM291.18 152.19h1.4v1.4h-1.4zM294.02 155.68h1.4v1.4h-1.4zM296.86 158.98h1.4v1.4h-1.4zM299.70 162.10h1.4v1.4h-1.4zM302.54 164.92h1.4v1.4h-1.4zM305.38 167.67h1.4v1.4h-1.4zM308.22 170.94h1.4v1.4h-1.4zM311.06 174.96h1.4v1.4h-1.4zM313.90 178.74h1.4v1.4h-1.4zM316.74 181.46h1.4v1.4h-1.4zM319.59 183.69h1.4v1.4h-1.4zM322.43 186.08h1.4v1.4h-1.4zM325.27 188.85h1.4v1.4h-1.4zM328.11 191.81h1.4v1.4h-1.4zM330.95 194.81h1.4v1.4h-1.4zM333.79 197.72h1.4v1.4h-1.4zM336.63 200.38h1.4v1.4h-1.4zM339.47 202.81h1.4v1.4h-1.4zM342.31 205.14h1.4v1.4h-1.4zM345.15 207.31h1.4v1.4h-1.4zM348.00 209.27h1.4v1.4h-1.4zM350.84 210.98h1.4v1.4h-1.4zM353.68 212.59h1.4v1.4h-1.4zM356.52 214.06h1.4v1.4h-1.4zM359.36 215.31h1.4v1.4h-1.4zM362.20 216.26h1.4v1.4h-1.4zM365.04 217.04h1.4v1.4h-1.4zM367.88 217.75h1.4v1.4h-1.4zM370.72 218.31h1.4v1.4h-1.4zM373.56 218.65h1.4v1.4h-1.4zM376.41 218.75h1.4v1.4h-1.4zM379.25 218.81h1.4v1.4h-1.4zM382.09 218.85h1.4v1.4h-1.4zM384.93 218.88h1.4v1.4h-1.4zM387.77 218.91h1.4v1.4h-1.4zM390.61 218.93h1.4v1.4h-1.4zM393.45 218.94h1.4v1.4h-1.4zM396.29 218.95h1.4v1.4h-1.4zM399.13 218.96h1.4v1.4h-1.4zM401.97 218.97h1.4v1.4h-1.4zM404.82 218.97h1.4v1.4h-1.4zM407.66 218.98h1.4v1.4h-1.4zM410.50 218.99h1.4v1.4h-1.4zM413.34 219.00h1.4v1.4h-1.4zM416.18 219.02h1.4v1.4h-1.4zM419.02 219.04h1.4v1.4h-1.4zM421.86 219.07h1.4v1.4h-1.4zM424.70 219.12h1.4v1.4h-1.4zM427.54 219.68h1.4v1.4h-1.4zM430.38 219.90h1.4v1.4h-1.4zM433.23 220.29h1.4v1.4h-1.4zM436.07 220.60h1.4v1.4h-1.4zM438.91 221.08h1.4v1.4h-1.4zM441.75 221.79h1.4v1.4h-1.4zM444.59 222.73h1.4v1.4h-1.4zM447.43 223.91h1.4v1.4h-1.4zM450.27 225.38h1.4v1.4h-1.4zM453.11 227.03h1.4v1.4h-1.4zM455.95 230.85h1.4v1.4h-1.4zM458.79 233.21h1.4v1.4h-1.4zM461.64 235.73h1.4v1.4h-1.4zM464.48 238.18h1.4v1.4h-1.4zM467.32 240.82h1.4v1.4h-1.4zM470.16 243.56h1.4v1.4h-1.4zM473.00 246.48h1.4v1.4h-1.4zM475.84 250.13h1.4v1.4h-1.4zM478.68 253.46h1.4v1.4h-1.4zM481.52 256.83h1.4v1.4h-1.4zM484.36 260.36h1.4v1.4h-1.4zM487.20 263.57h1.4v1.4h-1.4zM490.05 268.22h1.4v1.4h-1.4zM492.89 271.76h1.4v1.4h-1.4zM495.73 275.36h1.4v1.4h-1.4zM498.57 278.89h1.4v1.4h-1.4zM501.41 282.75h1.4v1.4h-1.4zM504.25 286.47h1.4v1.4h-1.4zM507.09 290.32h1.4v1.4h-1.4zM509.93 293.97h1.4v1.4h-1.4zM512.77 297.64h1.4v1.4h-1.4zM515.61 301.87h1.4v1.4h-1.4zM518.45 305.97h1.4v1.4h-1.4zM521.30 309.61h1.4v1.4h-1.4zM524.14 312.74h1.4v1.4h-1.4zM526.98 315.89h1.4v1.4h-1.4zM529.82 319.04h1.4v1.4h-1.4zM532.66 322.20h1.4v1.4h-1.4zM535.50 325.36h1.4v1.4h-1.4zM538.34 328.52h1.4v1.4h-1.4zM541.18 331.69h1.4v1.4h-1.4zM544.02 334.86h1.4v1.4h-1.4zM546.87 338.04h1.4v1.4h-1.4zM549.71 341.23h1.4v1.4h-1.4zM552.55 344.42h1.4v1.4h-1.4zM555.39 347.62h1.4v1.4h-1.4zM558.23 350.82h1.4v1.4h-1.4zM319.59 25.36h1.4v1.4h-1.4zM322.43 30.85h1.4v1.4h-1.4zM325.27 36.54h1.4v1.4h-1.4zM328.11 42.64h1.4v1.4h-1.4zM330.95 49.01h1.4v1.4h-1.4zM339.47 64.63h1.4v1.4h-1.4zM342.31 72.83h1.4v1.4h-1.4zM345.15 79.89h1.4v1.4h-1.4zM348.00 87.04h1.4v1.4h-1.4zM350.84 94.11h1.4v1.4h-1.4zM353.68 100.65h1.4v1.4h-1.4zM356.52 107.50h1.4v1.4h-1.4zM359.36 114.18h1.4v1.4h-1.4zM362.20 120.26h1.4v1.4h-1.4zM365.04 126.75h1.4v1.4h-1.4zM367.88 134.30h1.4v1.4h-1.4zM370.72 140.75h1.4v1.4h-1.4zM373.56 146.82h1.4v1.4h-1.4zM376.41 152.71h1.4v1.4h-1.4zM379.25 157.11h1.4v1.4h-1.4zM382.09 162.79h1.4v1.4h-1.4zM384.93 169.26h1.4v1.4h-1.4zM387.77 174.94h1.4v1.4h-1.4zM390.61 179.95h1.4v1.4h-1.4zM393.45 184.48h1.4v1.4h-1.4zM325.27 19.01h1.4v1.4h-1.4zM328.11 26.96h1.4v1.4h-1.4zM330.95 32.80h1.4v1.4h-1.4zM333.79 38.38h1.4v1.4h-1.4zM336.63 44.47h1.4v1.4h-1.4zM339.47 50.86h1.4v1.4h-1.4zM342.31 57.33h1.4v1.4h-1.4zM345.15 63.20h1.4v1.4h-1.4zM348.00 69.46h1.4v1.4h-1.4zM350.84 75.92h1.4v1.4h-1.4zM353.68 82.45h1.4v1.4h-1.4zM356.52 89.12h1.4v1.4h-1.4zM359.36 95.21h1.4v1.4h-1.4zM362.20 100.71h1.4v1.4h-1.4zM365.04 106.39h1.4v1.4h-1.4zM367.88 112.57h1.4v1.4h-1.4zM370.72 118.24h1.4v1.4h-1.4zM373.56 123.31h1.4v1.4h-1.4zM376.41 130.41h1.4v1.4h-1.4zM379.25 136.49h1.4v1.4h-1.4zM382.09 141.87h1.4v1.4h-1.4zM384.93 147.56h1.4v1.4h-1.4zM387.77 153.04h1.4v1.4h-1.4zM390.61 158.14h1.4v1.4h-1.4zM393.45 163.13h1.4v1.4h-1.4zM396.29 168.41h1.4v1.4h-1.4zM399.13 173.69h1.4v1.4h-1.4zM401.97 178.01h1.4v1.4h-1.4zM404.82 182.32h1.4v1.4h-1.4zM407.66 186.14h1.4v1.4h-1.4zM410.50 189.78h1.4v1.4h-1.4zM413.34 192.84h1.4v1.4h-1.4zM416.18 195.28h1.4v1.4h-1.4zM419.02 198.02h1.4v1.4h-1.4zM421.86 201.26h1.4v1.4h-1.4zM424.70 203.72h1.4v1.4h-1.4zM427.54 205.89h1.4v1.4h-1.4zM430.38 207.59h1.4v1.4h-1.4zM433.23 208.77h1.4v1.4h-1.4zM436.07 209.99h1.4v1.4h-1.4zM438.91 210.97h1.4v1.4h-1.4zM441.75 211.78h1.4v1.4h-1.4zM444.59 212.73h1.4v1.4h-1.4zM447.43 213.61h1.4v1.4h-1.4zM450.27 214.79h1.4v1.4h-1.4zM453.11 216.34h1.4v1.4h-1.4zM455.95 218.25h1.4v1.4h-1.4zM458.79 220.39h1.4v1.4h-1.4zM461.64 222.80h1.4v1.4h-1.4zM464.48 225.48h1.4v1.4h-1.4zM467.32 228.82h1.4v1.4h-1.4zM470.16 231.76h1.4v1.4h-1.4zM473.00 234.41h1.4v1.4h-1.4zM475.84 236.94h1.4v1.4h-1.4zM478.68 239.87h1.4v1.4h-1.4zM481.52 243.22h1.4v1.4h-1.4zM484.36 246.26h1.4v1.4h-1.4zM487.20 249.49h1.4v1.4h-1.4zM490.05 252.84h1.4v1.4h-1.4zM492.89 255.77h1.4v1.4h-1.4zM495.73 259.23h1.4v1.4h-1.4zM498.57 262.56h1.4v1.4h-1.4zM501.41 266.08h1.4v1.4h-1.4zM504.25 270.03h1.4v1.4h-1.4zM507.09 273.86h1.4v1.4h-1.4zM509.93 277.67h1.4v1.4h-1.4zM512.77 281.44h1.4v1.4h-1.4zM515.61 285.18h1.4v1.4h-1.4zM518.45 288.89h1.4v1.4h-1.4zM521.30 292.56h1.4v1.4h-1.4zM524.14 296.20h1.4v1.4h-1.4zM526.98 299.79h1.4v1.4h-1.4zM529.82 303.34h1.4v1.4h-1.4zM532.66 306.84h1.4v1.4h-1.4zM535.50 310.30h1.4v1.4h-1.4zM538.34 313.69h1.4v1.4h-1.4zM541.18 317.01h1.4v1.4h-1.4zM544.02 320.27h1.4v1.4h-1.4zM546.87 323.48h1.4v1.4h-1.4zM549.71 326.68h1.4v1.4h-1.4zM552.55 329.87h1.4v1.4h-1.4zM555.39 333.08h1.4v1.4h-1.4zM558.23 336.32h1.4v1.4h-1.4zM333.79 19.67h1.4v1.4h-1.4zM336.63 27.67h1.4v1.4h-1.4zM339.47 33.44h1.4v1.4h-1.4zM342.31 39.03h1.4v1.4h-1.4zM345.15 45.52h1.4v1.4h-1.4zM348.00 51.29h1.4v1.4h-1.4zM350.84 56.75h1.4v1.4h-1.4zM353.68 61.86h1.4v1.4h-1.4zM356.52 66.84h1.4v1.4h-1.4zM359.36 72.90h1.4v1.4h-1.4zM362.20 78.97h1.4v1.4h-1.4zM365.04 85.09h1.4v1.4h-1.4zM367.88 92.16h1.4v1.4h-1.4zM370.72 97.45h1.4v1.4h-1.4zM373.56 102.94h1.4v1.4h-1.4zM376.41 108.43h1.4v1.4h-1.4zM379.25 113.80h1.4v1.4h-1.4zM382.09 119.37h1.4v1.4h-1.4zM384.93 124.86h1.4v1.4h-1.4zM387.77 131.53h1.4v1.4h-1.4zM390.61 138.01h1.4v1.4h-1.4zM393.45 143.71h1.4v1.4h-1.4zM396.29 148.99h1.4v1.4h-1.4zM399.13 154.76h1.4v1.4h-1.4zM401.97 159.75h1.4v1.4h-1.4zM404.82 164.75h1.4v1.4h-1.4zM407.66 169.66h1.4v1.4h-1.4zM410.50 174.40h1.4v1.4h-1.4zM413.34 179.01h1.4v1.4h-1.4zM416.18 182.77h1.4v1.4h-1.4zM419.02 186.53h1.4v1.4h-1.4zM421.86 190.36h1.4v1.4h-1.4zM424.70 193.21h1.4v1.4h-1.4zM427.54 195.75h1.4v1.4h-1.4zM430.38 198.58h1.4v1.4h-1.4zM433.23 201.53h1.4v1.4h-1.4zM436.07 203.78h1.4v1.4h-1.4zM438.91 205.15h1.4v1.4h-1.4zM441.75 206.78h1.4v1.4h-1.4zM444.59 207.93h1.4v1.4h-1.4zM447.43 208.61h1.4v1.4h-1.4zM450.27 209.39h1.4v1.4h-1.4zM453.11 209.98h1.4v1.4h-1.4zM455.95 211.07h1.4v1.4h-1.4zM458.79 212.71h1.4v1.4h-1.4zM461.64 214.79h1.4v1.4h-1.4zM464.48 217.22h1.4v1.4h-1.4zM467.32 219.89h1.4v1.4h-1.4zM470.16 222.72h1.4v1.4h-1.4zM473.00 225.60h1.4v1.4h-1.4zM475.84 229.02h1.4v1.4h-1.4zM478.68 232.85h1.4v1.4h-1.4zM481.52 236.13h1.4v1.4h-1.4zM484.36 239.36h1.4v1.4h-1.4zM487.20 241.91h1.4v1.4h-1.4zM490.05 244.94h1.4v1.4h-1.4zM492.89 247.88h1.4v1.4h-1.4zM495.73 251.03h1.4v1.4h-1.4zM498.57 254.36h1.4v1.4h-1.4zM501.41 257.88h1.4v1.4h-1.4zM504.25 261.93h1.4v1.4h-1.4zM507.09 265.75h1.4v1.4h-1.4zM509.93 269.61h1.4v1.4h-1.4zM512.77 272.94h1.4v1.4h-1.4zM515.61 276.74h1.4v1.4h-1.4zM518.45 280.06h1.4v1.4h-1.4zM521.30 283.42h1.4v1.4h-1.4zM524.14 287.24h1.4v1.4h-1.4zM526.98 290.17h1.4v1.4h-1.4zM529.82 294.12h1.4v1.4h-1.4zM532.66 297.48h1.4v1.4h-1.4zM535.50 301.40h1.4v1.4h-1.4zM538.34 305.35h1.4v1.4h-1.4zM541.18 308.58h1.4v1.4h-1.4zM544.02 311.62h1.4v1.4h-1.4zM546.87 314.78h1.4v1.4h-1.4zM549.71 318.03h1.4v1.4h-1.4zM552.55 321.33h1.4v1.4h-1.4zM555.39 324.63h1.4v1.4h-1.4zM558.23 327.92h1.4v1.4h-1.4zM350.84 28.16h1.4v1.4h-1.4zM353.68 33.76h1.4v1.4h-1.4zM356.52 39.63h1.4v1.4h-1.4zM359.36 44.92h1.4v1.4h-1.4zM362.20 50.70h1.4v1.4h-1.4zM365.04 56.38h1.4v1.4h-1.4zM367.88 61.87h1.4v1.4h-1.4zM370.72 66.46h1.4v1.4h-1.4zM373.56 72.91h1.4v1.4h-1.4zM376.41 78.43h1.4v1.4h-1.4zM379.25 83.89h1.4v1.4h-1.4zM382.09 89.99h1.4v1.4h-1.4zM384.93 94.62h1.4v1.4h-1.4zM387.77 99.30h1.4v1.4h-1.4zM390.61 104.62h1.4v1.4h-1.4zM407.66 156.33h1.4v1.4h-1.4zM410.50 161.04h1.4v1.4h-1.4zM413.34 164.65h1.4v1.4h-1.4zM416.18 168.61h1.4v1.4h-1.4zM419.02 172.43h1.4v1.4h-1.4zM421.86 176.59h1.4v1.4h-1.4zM424.70 180.53h1.4v1.4h-1.4zM427.54 184.30h1.4v1.4h-1.4zM362.20 17.33h1.4v1.4h-1.4zM365.04 23.69h1.4v1.4h-1.4zM367.88 29.57h1.4v1.4h-1.4zM370.72 34.42h1.4v1.4h-1.4zM373.56 39.72h1.4v1.4h-1.4zM376.41 44.81h1.4v1.4h-1.4zM379.25 50.60h1.4v1.4h-1.4zM382.09 56.87h1.4v1.4h-1.4zM384.93 61.95h1.4v1.4h-1.4zM387.77 66.94h1.4v1.4h-1.4zM390.61 73.01h1.4v1.4h-1.4zM393.45 79.09h1.4v1.4h-1.4zM396.29 84.76h1.4v1.4h-1.4zM399.13 91.87h1.4v1.4h-1.4zM401.97 96.95h1.4v1.4h-1.4zM404.82 102.05h1.4v1.4h-1.4zM407.66 107.04h1.4v1.4h-1.4zM410.50 112.39h1.4v1.4h-1.4zM413.34 117.10h1.4v1.4h-1.4zM416.18 121.52h1.4v1.4h-1.4zM419.02 125.50h1.4v1.4h-1.4zM421.86 131.61h1.4v1.4h-1.4zM424.70 135.65h1.4v1.4h-1.4zM427.54 140.32h1.4v1.4h-1.4zM430.38 144.51h1.4v1.4h-1.4zM433.23 148.03h1.4v1.4h-1.4zM436.07 152.09h1.4v1.4h-1.4zM438.91 155.61h1.4v1.4h-1.4zM441.75 159.72h1.4v1.4h-1.4zM444.59 164.01h1.4v1.4h-1.4zM447.43 167.03h1.4v1.4h-1.4zM450.27 170.46h1.4v1.4h-1.4zM453.11 173.91h1.4v1.4h-1.4zM455.95 176.85h1.4v1.4h-1.4zM458.79 180.25h1.4v1.4h-1.4zM461.64 183.30h1.4v1.4h-1.4zM464.48 186.43h1.4v1.4h-1.4zM467.32 189.64h1.4v1.4h-1.4zM470.16 193.00h1.4v1.4h-1.4zM473.00 196.61h1.4v1.4h-1.4zM475.84 200.40h1.4v1.4h-1.4zM478.68 204.21h1.4v1.4h-1.4zM481.52 207.96h1.4v1.4h-1.4zM484.36 211.70h1.4v1.4h-1.4zM487.20 215.42h1.4v1.4h-1.4zM490.05 219.02h1.4v1.4h-1.4zM492.89 222.57h1.4v1.4h-1.4zM495.73 226.34h1.4v1.4h-1.4zM498.57 230.55h1.4v1.4h-1.4zM501.41 234.77h1.4v1.4h-1.4zM504.25 238.44h1.4v1.4h-1.4zM507.09 241.96h1.4v1.4h-1.4zM509.93 245.91h1.4v1.4h-1.4zM512.77 249.64h1.4v1.4h-1.4zM515.61 253.10h1.4v1.4h-1.4zM518.45 256.55h1.4v1.4h-1.4zM521.30 259.98h1.4v1.4h-1.4zM524.14 263.15h1.4v1.4h-1.4zM526.98 267.07h1.4v1.4h-1.4zM529.82 270.62h1.4v1.4h-1.4zM532.66 273.77h1.4v1.4h-1.4zM535.50 277.30h1.4v1.4h-1.4zM538.34 280.65h1.4v1.4h-1.4zM541.18 284.18h1.4v1.4h-1.4zM544.02 287.71h1.4v1.4h-1.4zM546.87 291.18h1.4v1.4h-1.4zM549.71 294.81h1.4v1.4h-1.4zM552.55 298.53h1.4v1.4h-1.4zM555.39 302.58h1.4v1.4h-1.4zM558.23 306.40h1.4v1.4h-1.4zM379.25 24.39h1.4v1.4h-1.4zM382.09 30.22h1.4v1.4h-1.4zM384.93 36.55h1.4v1.4h-1.4zM387.77 43.27h1.4v1.4h-1.4zM390.61 50.27h1.4v1.4h-1.4zM393.45 57.92h1.4v1.4h-1.4zM396.29 64.75h1.4v1.4h-1.4zM399.13 71.28h1.4v1.4h-1.4zM401.97 78.34h1.4v1.4h-1.4zM404.82 84.80h1.4v1.4h-1.4zM407.66 91.88h1.4v1.4h-1.4zM410.50 97.59h1.4v1.4h-1.4zM413.34 103.08h1.4v1.4h-1.4zM416.18 108.78h1.4v1.4h-1.4zM419.02 113.30h1.4v1.4h-1.4zM421.86 118.53h1.4v1.4h-1.4zM424.70 123.16h1.4v1.4h-1.4zM427.54 126.71h1.4v1.4h-1.4zM430.38 132.73h1.4v1.4h-1.4zM433.23 136.33h1.4v1.4h-1.4zM436.07 140.49h1.4v1.4h-1.4zM438.91 144.41h1.4v1.4h-1.4zM441.75 147.64h1.4v1.4h-1.4zM444.59 151.11h1.4v1.4h-1.4zM447.43 154.64h1.4v1.4h-1.4zM450.27 159.06h1.4v1.4h-1.4zM453.11 163.42h1.4v1.4h-1.4zM455.95 166.54h1.4v1.4h-1.4zM458.79 170.29h1.4v1.4h-1.4zM461.64 173.64h1.4v1.4h-1.4zM464.48 176.91h1.4v1.4h-1.4zM467.32 180.23h1.4v1.4h-1.4zM470.16 183.06h1.4v1.4h-1.4zM473.00 186.10h1.4v1.4h-1.4zM475.84 189.04h1.4v1.4h-1.4zM430.38 158.04h1.4v1.4h-1.4zM433.23 162.44h1.4v1.4h-1.4zM436.07 166.09h1.4v1.4h-1.4zM438.91 170.61h1.4v1.4h-1.4zM441.75 175.02h1.4v1.4h-1.4zM444.59 179.83h1.4v1.4h-1.4zM447.43 183.54h1.4v1.4h-1.4zM450.27 187.36h1.4v1.4h-1.4zM453.11 190.89h1.4v1.4h-1.4zM455.95 194.43h1.4v1.4h-1.4zM458.79 197.99h1.4v1.4h-1.4zM461.64 201.53h1.4v1.4h-1.4zM464.48 205.03h1.4v1.4h-1.4zM467.32 208.46h1.4v1.4h-1.4zM470.16 211.86h1.4v1.4h-1.4zM473.00 215.26h1.4v1.4h-1.4zM475.84 218.85h1.4v1.4h-1.4zM478.68 222.48h1.4v1.4h-1.4zM481.52 225.52h1.4v1.4h-1.4zM484.36 227.66h1.4v1.4h-1.4zM487.20 231.66h1.4v1.4h-1.4zM490.05 235.63h1.4v1.4h-1.4zM492.89 238.96h1.4v1.4h-1.4zM495.73 242.63h1.4v1.4h-1.4zM498.57 246.26h1.4v1.4h-1.4zM501.41 250.27h1.4v1.4h-1.4zM478.68 173.10h1.4v1.4h-1.4zM481.52 176.23h1.4v1.4h-1.4zM484.36 179.26h1.4v1.4h-1.4zM487.20 182.58h1.4v1.4h-1.4zM490.05 186.16h1.4v1.4h-1.4zM492.89 189.68h1.4v1.4h-1.4zM495.73 193.69h1.4v1.4h-1.4zM498.57 198.05h1.4v1.4h-1.4zM501.41 203.43h1.4v1.4h-1.4zM504.25 208.48h1.4v1.4h-1.4zM507.09 213.08h1.4v1.4h-1.4zM509.93 218.67h1.4v1.4h-1.4zM512.77 224.85h1.4v1.4h-1.4zM515.61 229.94h1.4v1.4h-1.4zM518.45 235.61h1.4v1.4h-1.4zM521.30 241.01h1.4v1.4h-1.4zM524.14 245.90h1.4v1.4h-1.4zM526.98 250.17h1.4v1.4h-1.4zM529.82 254.13h1.4v1.4h-1.4zM532.66 257.98h1.4v1.4h-1.4zM535.50 261.60h1.4v1.4h-1.4zM538.34 265.66h1.4v1.4h-1.4zM541.18 269.58h1.4v1.4h-1.4zM544.02 273.21h1.4v1.4h-1.4zM509.93 203.44h1.4v1.4h-1.4zM512.77 207.36h1.4v1.4h-1.4zM515.61 211.42h1.4v1.4h-1.4zM518.45 215.43h1.4v1.4h-1.4zM521.30 219.86h1.4v1.4h-1.4zM524.14 224.86h1.4v1.4h-1.4zM526.98 229.36h1.4v1.4h-1.4zM529.82 234.23h1.4v1.4h-1.4zM532.66 239.50h1.4v1.4h-1.4zM535.50 244.10h1.4v1.4h-1.4zM538.34 248.97h1.4v1.4h-1.4zM541.18 253.67h1.4v1.4h-1.4zM544.02 258.46h1.4v1.4h-1.4zM546.87 263.83h1.4v1.4h-1.4zM549.71 269.51h1.4v1.4h-1.4zM552.55 273.62h1.4v1.4h-1.4zM555.39 278.48h1.4v1.4h-1.4zM558.23 282.89h1.4v1.4h-1.4zM490.05 144.26h1.4v1.4h-1.4zM492.89 148.78h1.4v1.4h-1.4zM495.73 154.43h1.4v1.4h-1.4zM498.57 159.32h1.4v1.4h-1.4zM501.41 164.12h1.4v1.4h-1.4zM504.25 168.82h1.4v1.4h-1.4zM507.09 173.68h1.4v1.4h-1.4zM509.93 178.49h1.4v1.4h-1.4zM512.77 182.70h1.4v1.4h-1.4zM515.61 187.23h1.4v1.4h-1.4zM518.45 191.98h1.4v1.4h-1.4zM521.30 196.86h1.4v1.4h-1.4zM524.14 201.80h1.4v1.4h-1.4zM526.98 206.72h1.4v1.4h-1.4zM529.82 211.54h1.4v1.4h-1.4zM532.66 216.20h1.4v1.4h-1.4zM535.50 220.60h1.4v1.4h-1.4zM538.34 225.57h1.4v1.4h-1.4zM541.18 230.57h1.4v1.4h-1.4zM544.02 235.47h1.4v1.4h-1.4zM546.87 240.51h1.4v1.4h-1.4zM549.71 245.31h1.4v1.4h-1.4zM552.55 249.72h1.4v1.4h-1.4zM555.39 254.38h1.4v1.4h-1.4zM558.23 258.79h1.4v1.4h-1.4z" fill="#1a1a1a"/>
<path d="M77.85 125.85h1.9v1.9h-1.9zM80.69 125.85h1.9v1.9h-1.9zM83.53 125.85h1.9v1.9h-1.9zM86.37 125.85h1.9v1.9h-1.9zM89.21 125.85h1.9v1.9h-1.9zM92.05 125.85h1.9v1.9h-1.9zM94.90 125.85h1.9v1.9h-1.9zM97.74 125.85h1.9v1.9h-1.9zM100.58 125.85h1.9v1.9h-1.9zM103.42 125.85h1.9v1.9h-1.9zM106.26 125.85h1.9v1.9h-1.9zM109.10 125.85h1.9v1.9h-1.9zM111.94 125.85h1.9v1.9h-1.9zM114.78 125.85h1.9v1.9h-1.9zM117.62 125.85h1.9v1.9h-1.9zM120.46 125.85h1.9v1.9h-1.9zM123.31 125.85h1.9v1.9h-1.9zM126.15 125.85h1.9v1.9h-1.9zM128.99 125.85h1.9v1.9h-1.9zM131.83 125.85h1.9v1.9h-1.9zM134.67 125.85h1.9v1.9h-1.9zM137.51 125.85h1.9v1.9h-1.9zM140.35 125.85h1.9v1.9h-1.9zM143.19 125.85h1.9v1.9h-1.9zM146.03 125.85h1.9v1.9h-1.9zM148.88 125.85h1.9v1.9h-1.9zM151.72 125.85h1.9v1.9h-1.9zM154.56 125.85h1.9v1.9h-1.9zM157.40 125.85h1.9v1.9h-1.9zM160.24 125.85h1.9v1.9h-1.9zM163.08 125.85h1.9v1.9h-1.9zM165.92 125.85h1.9v1.9h-1.9zM168.76 125.85h1.9v1.9h-1.9zM171.60 125.85h1.9v1.9h-1.9zM174.44 125.85h1.9v1.9h-1.9zM177.29 125.85h1.9v1.9h-1.9zM180.13 125.85h1.9v1.9h-1.9zM182.97 125.85h1.9v1.9h-1.9zM185.81 125.85h1.9v1.9h-1.9zM188.65 125.85h1.9v1.9h-1.9zM191.49 125.85h1.9v1.9h-1.9zM194.33 125.85h1.9v1.9h-1.9zM197.17 125.85h1.9v1.9h-1.9zM200.01 125.85h1.9v1.9h-1.9zM202.85 125.85h1.9v1.9h-1.9zM205.70 125.85h1.9v1.9h-1.9zM208.54 125.85h1.9v1.9h-1.9zM211.38 125.85h1.9v1.9h-1.9zM214.22 125.85h1.9v1.9h-1.9zM217.06 125.85h1.9v1.9h-1.9zM219.90 125.88h1.9v1.9h-1.9zM222.74 126.38h1.9v1.9h-1.9zM225.58 127.23h1.9v1.9h-1.9zM228.42 128.98h1.9v1.9h-1.9zM231.26 131.35h1.9v1.9h-1.9zM234.11 133.60h1.9v1.9h-1.9zM236.95 135.99h1.9v1.9h-1.9zM239.79 138.54h1.9v1.9h-1.9zM242.63 141.26h1.9v1.9h-1.9zM245.47 144.18h1.9v1.9h-1.9zM248.31 147.32h1.9v1.9h-1.9zM251.15 150.72h1.9v1.9h-1.9zM253.99 154.25h1.9v1.9h-1.9zM256.83 157.89h1.9v1.9h-1.9zM259.67 162.14h1.9v1.9h-1.9zM262.52 165.77h1.9v1.9h-1.9zM265.36 169.86h1.9v1.9h-1.9zM268.20 173.65h1.9v1.9h-1.9zM271.04 177.47h1.9v1.9h-1.9zM273.88 181.34h1.9v1.9h-1.9zM276.72 185.29h1.9v1.9h-1.9zM279.56 189.32h1.9v1.9h-1.9zM282.40 193.39h1.9v1.9h-1.9zM285.24 197.42h1.9v1.9h-1.9zM288.08 201.40h1.9v1.9h-1.9zM290.93 205.52h1.9v1.9h-1.9zM293.77 209.09h1.9v1.9h-1.9zM296.61 212.52h1.9v1.9h-1.9zM299.45 215.75h1.9v1.9h-1.9zM302.29 219.08h1.9v1.9h-1.9zM305.13 222.63h1.9v1.9h-1.9zM307.97 225.00h1.9v1.9h-1.9zM310.81 227.53h1.9v1.9h-1.9zM313.65 230.00h1.9v1.9h-1.9zM316.49 232.37h1.9v1.9h-1.9zM319.34 234.36h1.9v1.9h-1.9zM322.18 236.08h1.9v1.9h-1.9zM325.02 237.61h1.9v1.9h-1.9zM327.86 238.82h1.9v1.9h-1.9zM330.70 239.63h1.9v1.9h-1.9zM333.54 240.29h1.9v1.9h-1.9zM336.38 240.79h1.9v1.9h-1.9zM339.22 241.05h1.9v1.9h-1.9zM342.06 241.14h1.9v1.9h-1.9zM344.90 241.21h1.9v1.9h-1.9zM347.75 241.25h1.9v1.9h-1.9zM350.59 241.25h1.9v1.9h-1.9zM353.43 241.25h1.9v1.9h-1.9zM356.27 241.25h1.9v1.9h-1.9zM359.11 241.25h1.9v1.9h-1.9zM361.95 241.25h1.9v1.9h-1.9zM364.79 241.25h1.9v1.9h-1.9zM367.63 241.25h1.9v1.9h-1.9zM370.47 241.25h1.9v1.9h-1.9zM373.31 241.25h1.9v1.9h-1.9zM376.16 241.25h1.9v1.9h-1.9zM379.00 241.25h1.9v1.9h-1.9zM381.84 241.25h1.9v1.9h-1.9zM384.68 241.25h1.9v1.9h-1.9zM387.52 241.25h1.9v1.9h-1.9zM390.36 241.25h1.9v1.9h-1.9zM393.20 241.25h1.9v1.9h-1.9zM396.04 241.25h1.9v1.9h-1.9zM398.88 241.25h1.9v1.9h-1.9zM401.72 241.25h1.9v1.9h-1.9zM404.57 241.25h1.9v1.9h-1.9zM407.41 241.42h1.9v1.9h-1.9zM410.25 242.23h1.9v1.9h-1.9zM413.09 242.84h1.9v1.9h-1.9zM415.93 243.61h1.9v1.9h-1.9zM418.77 244.81h1.9v1.9h-1.9zM421.61 246.08h1.9v1.9h-1.9zM424.45 247.54h1.9v1.9h-1.9zM427.29 249.18h1.9v1.9h-1.9zM430.13 251.07h1.9v1.9h-1.9zM432.98 253.29h1.9v1.9h-1.9zM435.82 255.64h1.9v1.9h-1.9zM438.66 258.00h1.9v1.9h-1.9zM441.50 260.15h1.9v1.9h-1.9zM444.34 262.64h1.9v1.9h-1.9zM447.18 265.80h1.9v1.9h-1.9zM450.02 268.25h1.9v1.9h-1.9zM452.86 270.95h1.9v1.9h-1.9zM455.70 273.75h1.9v1.9h-1.9zM458.54 276.75h1.9v1.9h-1.9zM461.39 279.74h1.9v1.9h-1.9zM464.23 282.75h1.9v1.9h-1.9zM467.07 285.95h1.9v1.9h-1.9zM469.91 289.15h1.9v1.9h-1.9zM472.75 292.15h1.9v1.9h-1.9zM475.59 295.35h1.9v1.9h-1.9zM478.43 298.75h1.9v1.9h-1.9zM481.27 302.25h1.9v1.9h-1.9zM484.11 305.95h1.9v1.9h-1.9zM486.95 309.25h1.9v1.9h-1.9zM489.80 312.56h1.9v1.9h-1.9zM492.64 315.88h1.9v1.9h-1.9zM495.48 319.19h1.9v1.9h-1.9zM498.32 322.51h1.9v1.9h-1.9zM501.16 325.82h1.9v1.9h-1.9zM504.00 329.15h1.9v1.9h-1.9zM506.84 332.47h1.9v1.9h-1.9zM509.68 335.80h1.9v1.9h-1.9zM512.52 339.13h1.9v1.9h-1.9zM515.36 342.46h1.9v1.9h-1.9zM518.20 345.80h1.9v1.9h-1.9zM521.05 349.15h1.9v1.9h-1.9z" fill="#cf1238"/>
<path d="M76.55 119.45h4.5v4.5h-4.5zM79.39 119.45h4.5v4.5h-4.5zM82.23 119.45h4.5v4.5h-4.5zM85.07 119.45h4.5v4.5h-4.5zM87.91 119.45h4.5v4.5h-4.5zM90.75 119.45h4.5v4.5h-4.5zM93.60 119.45h4.5v4.5h-4.5zM96.44 119.45h4.5v4.5h-4.5zM99.28 119.45h4.5v4.5h-4.5zM102.12 119.45h4.5v4.5h-4.5zM104.96 119.45h4.5v4.5h-4.5zM107.80 119.45h4.5v4.5h-4.5zM110.64 119.45h4.5v4.5h-4.5zM113.48 119.45h4.5v4.5h-4.5zM116.32 119.45h4.5v4.5h-4.5zM119.16 119.45h4.5v4.5h-4.5zM122.01 119.45h4.5v4.5h-4.5zM124.85 119.45h4.5v4.5h-4.5zM127.69 119.45h4.5v4.5h-4.5zM130.53 119.45h4.5v4.5h-4.5zM133.37 119.45h4.5v4.5h-4.5zM136.21 119.45h4.5v4.5h-4.5zM139.05 119.45h4.5v4.5h-4.5zM141.89 119.45h4.5v4.5h-4.5zM144.73 119.45h4.5v4.5h-4.5zM147.57 119.45h4.5v4.5h-4.5zM150.42 119.45h4.5v4.5h-4.5zM153.26 119.45h4.5v4.5h-4.5zM156.10 119.45h4.5v4.5h-4.5zM158.94 119.45h4.5v4.5h-4.5zM161.78 119.45h4.5v4.5h-4.5zM164.62 119.45h4.5v4.5h-4.5zM167.46 119.45h4.5v4.5h-4.5zM170.30 119.45h4.5v4.5h-4.5zM173.14 119.45h4.5v4.5h-4.5zM175.99 119.45h4.5v4.5h-4.5zM178.83 119.45h4.5v4.5h-4.5zM181.67 119.45h4.5v4.5h-4.5zM184.51 119.45h4.5v4.5h-4.5zM187.35 119.45h4.5v4.5h-4.5zM190.19 119.45h4.5v4.5h-4.5zM193.03 119.45h4.5v4.5h-4.5zM195.87 119.45h4.5v4.5h-4.5zM198.71 119.45h4.5v4.5h-4.5zM201.55 119.45h4.5v4.5h-4.5zM204.40 119.45h4.5v4.5h-4.5zM207.24 119.45h4.5v4.5h-4.5zM210.08 119.45h4.5v4.5h-4.5zM212.92 119.45h4.5v4.5h-4.5zM215.76 119.45h4.5v4.5h-4.5zM218.60 119.63h4.5v4.5h-4.5zM221.44 120.04h4.5v4.5h-4.5zM224.28 120.54h4.5v4.5h-4.5zM227.12 121.26h4.5v4.5h-4.5zM229.96 122.21h4.5v4.5h-4.5zM232.81 123.48h4.5v4.5h-4.5zM235.65 125.18h4.5v4.5h-4.5zM238.49 127.09h4.5v4.5h-4.5zM241.33 129.27h4.5v4.5h-4.5zM244.17 131.75h4.5v4.5h-4.5zM247.01 134.49h4.5v4.5h-4.5zM249.85 137.57h4.5v4.5h-4.5zM252.69 140.88h4.5v4.5h-4.5zM255.53 144.25h4.5v4.5h-4.5zM258.37 147.70h4.5v4.5h-4.5zM261.22 151.28h4.5v4.5h-4.5zM264.06 154.89h4.5v4.5h-4.5zM266.90 158.46h4.5v4.5h-4.5zM269.74 162.00h4.5v4.5h-4.5zM272.58 165.56h4.5v4.5h-4.5zM275.42 169.21h4.5v4.5h-4.5zM278.26 172.98h4.5v4.5h-4.5zM281.10 176.84h4.5v4.5h-4.5zM283.94 180.74h4.5v4.5h-4.5zM286.78 184.70h4.5v4.5h-4.5zM289.62 188.52h4.5v4.5h-4.5zM292.47 192.40h4.5v4.5h-4.5zM295.31 195.92h4.5v4.5h-4.5zM298.15 199.75h4.5v4.5h-4.5zM300.99 203.37h4.5v4.5h-4.5zM303.83 207.10h4.5v4.5h-4.5zM306.67 210.34h4.5v4.5h-4.5zM309.51 213.69h4.5v4.5h-4.5zM312.35 216.93h4.5v4.5h-4.5zM315.19 220.09h4.5v4.5h-4.5zM318.04 223.04h4.5v4.5h-4.5zM320.88 225.43h4.5v4.5h-4.5zM323.72 227.42h4.5v4.5h-4.5zM326.56 229.29h4.5v4.5h-4.5zM329.40 230.93h4.5v4.5h-4.5zM332.24 232.20h4.5v4.5h-4.5zM335.08 233.11h4.5v4.5h-4.5zM337.92 233.87h4.5v4.5h-4.5zM340.76 234.45h4.5v4.5h-4.5zM343.60 234.82h4.5v4.5h-4.5zM346.45 235.09h4.5v4.5h-4.5zM349.29 235.30h4.5v4.5h-4.5zM352.13 235.43h4.5v4.5h-4.5zM354.97 235.48h4.5v4.5h-4.5zM357.81 235.52h4.5v4.5h-4.5zM360.65 235.54h4.5v4.5h-4.5zM363.49 235.55h4.5v4.5h-4.5zM366.33 235.55h4.5v4.5h-4.5zM369.17 235.55h4.5v4.5h-4.5zM372.01 235.55h4.5v4.5h-4.5zM374.86 235.55h4.5v4.5h-4.5zM377.70 235.55h4.5v4.5h-4.5zM380.54 235.55h4.5v4.5h-4.5zM383.38 235.55h4.5v4.5h-4.5zM386.22 235.55h4.5v4.5h-4.5zM389.06 235.55h4.5v4.5h-4.5zM391.90 235.55h4.5v4.5h-4.5zM394.74 235.55h4.5v4.5h-4.5zM397.58 235.55h4.5v4.5h-4.5zM400.42 235.55h4.5v4.5h-4.5zM403.27 235.55h4.5v4.5h-4.5zM406.11 235.55h4.5v4.5h-4.5zM408.95 235.57h4.5v4.5h-4.5zM411.79 235.78h4.5v4.5h-4.5zM414.63 236.14h4.5v4.5h-4.5zM417.47 236.59h4.5v4.5h-4.5zM420.31 237.19h4.5v4.5h-4.5zM423.15 238.10h4.5v4.5h-4.5zM425.99 239.23h4.5v4.5h-4.5zM428.83 240.85h4.5v4.5h-4.5zM431.68 243.25h4.5v4.5h-4.5zM434.52 245.85h4.5v4.5h-4.5zM437.36 248.65h4.5v4.5h-4.5zM440.20 251.25h4.5v4.5h-4.5zM443.04 253.85h4.5v4.5h-4.5zM445.88 256.45h4.5v4.5h-4.5zM448.72 259.15h4.5v4.5h-4.5zM451.56 261.75h4.5v4.5h-4.5zM454.40 264.55h4.5v4.5h-4.5zM457.24 267.25h4.5v4.5h-4.5zM460.09 270.05h4.5v4.5h-4.5zM462.93 272.75h4.5v4.5h-4.5zM465.77 275.55h4.5v4.5h-4.5zM468.61 278.45h4.5v4.5h-4.5zM471.45 281.45h4.5v4.5h-4.5zM474.29 284.45h4.5v4.5h-4.5zM477.13 287.45h4.5v4.5h-4.5zM479.97 290.85h4.5v4.5h-4.5zM482.81 294.45h4.5v4.5h-4.5zM485.65 298.36h4.5v4.5h-4.5zM488.50 302.54h4.5v4.5h-4.5zM491.34 306.15h4.5v4.5h-4.5zM494.18 309.62h4.5v4.5h-4.5zM497.02 313.07h4.5v4.5h-4.5zM499.86 316.49h4.5v4.5h-4.5zM502.70 319.90h4.5v4.5h-4.5zM505.54 323.27h4.5v4.5h-4.5zM508.38 326.61h4.5v4.5h-4.5zM511.22 329.91h4.5v4.5h-4.5zM514.06 333.17h4.5v4.5h-4.5zM516.90 336.39h4.5v4.5h-4.5zM519.75 339.56h4.5v4.5h-4.5zM522.59 342.68h4.5v4.5h-4.5zM525.43 345.74h4.5v4.5h-4.5zM528.27 348.75h4.5v4.5h-4.5z" fill="#00a8a8"/>
<path d="M110.64 19.66h4.5v4.5h-4.5zM113.48 20.01h4.5v4.5h-4.5zM116.32 20.53h4.5v4.5h-4.5zM119.16 21.28h4.5v4.5h-4.5zM122.01 22.42h4.5v4.5h-4.5zM124.85 23.72h4.5v4.5h-4.5zM127.69 25.08h4.5v4.5h-4.5zM130.53 26.29h4.5v4.5h-4.5zM133.37 27.55h4.5v4.5h-4.5zM136.21 29.27h4.5v4.5h-4.5zM139.05 31.53h4.5v4.5h-4.5zM141.89 34.02h4.5v4.5h-4.5zM144.73 36.88h4.5v4.5h-4.5zM147.57 40.27h4.5v4.5h-4.5zM150.42 44.57h4.5v4.5h-4.5zM153.26 48.73h4.5v4.5h-4.5zM156.10 52.47h4.5v4.5h-4.5zM158.94 56.61h4.5v4.5h-4.5zM161.78 60.54h4.5v4.5h-4.5zM164.62 64.96h4.5v4.5h-4.5zM167.46 69.73h4.5v4.5h-4.5zM170.30 74.61h4.5v4.5h-4.5zM173.14 79.36h4.5v4.5h-4.5zM175.99 83.75h4.5v4.5h-4.5zM178.83 88.01h4.5v4.5h-4.5zM181.67 92.20h4.5v4.5h-4.5zM184.51 96.15h4.5v4.5h-4.5zM187.35 99.69h4.5v4.5h-4.5zM190.19 102.64h4.5v4.5h-4.5zM193.03 104.98h4.5v4.5h-4.5zM195.87 107.36h4.5v4.5h-4.5zM198.71 109.49h4.5v4.5h-4.5zM201.55 110.93h4.5v4.5h-4.5zM204.40 112.02h4.5v4.5h-4.5zM207.24 112.76h4.5v4.5h-4.5zM210.08 113.18h4.5v4.5h-4.5zM212.92 113.48h4.5v4.5h-4.5zM215.76 113.71h4.5v4.5h-4.5zM218.60 113.90h4.5v4.5h-4.5zM221.44 114.04h4.5v4.5h-4.5zM224.28 114.15h4.5v4.5h-4.5zM227.12 114.30h4.5v4.5h-4.5zM229.96 114.56h4.5v4.5h-4.5zM232.81 114.97h4.5v4.5h-4.5zM235.65 115.53h4.5v4.5h-4.5zM238.49 116.28h4.5v4.5h-4.5zM241.33 117.64h4.5v4.5h-4.5zM244.17 119.50h4.5v4.5h-4.5zM247.01 121.72h4.5v4.5h-4.5zM249.85 124.59h4.5v4.5h-4.5zM252.69 127.68h4.5v4.5h-4.5zM255.53 130.74h4.5v4.5h-4.5zM258.37 133.90h4.5v4.5h-4.5zM261.22 137.15h4.5v4.5h-4.5zM264.06 140.44h4.5v4.5h-4.5zM266.90 143.80h4.5v4.5h-4.5zM269.74 147.23h4.5v4.5h-4.5zM272.58 150.68h4.5v4.5h-4.5zM275.42 154.11h4.5v4.5h-4.5zM278.26 157.52h4.5v4.5h-4.5zM281.10 160.91h4.5v4.5h-4.5zM283.94 164.32h4.5v4.5h-4.5zM286.78 167.80h4.5v4.5h-4.5zM289.62 171.39h4.5v4.5h-4.5zM292.47 175.11h4.5v4.5h-4.5zM295.31 178.77h4.5v4.5h-4.5zM298.15 182.25h4.5v4.5h-4.5zM300.99 185.48h4.5v4.5h-4.5zM303.83 189.00h4.5v4.5h-4.5zM306.67 192.62h4.5v4.5h-4.5zM309.51 196.28h4.5v4.5h-4.5zM312.35 199.80h4.5v4.5h-4.5zM315.19 203.38h4.5v4.5h-4.5zM318.04 206.53h4.5v4.5h-4.5zM320.88 209.47h4.5v4.5h-4.5zM323.72 212.41h4.5v4.5h-4.5zM326.56 215.27h4.5v4.5h-4.5zM329.40 217.66h4.5v4.5h-4.5zM332.24 219.73h4.5v4.5h-4.5zM335.08 221.65h4.5v4.5h-4.5zM337.92 223.04h4.5v4.5h-4.5zM340.76 224.34h4.5v4.5h-4.5zM343.60 225.24h4.5v4.5h-4.5zM346.45 226.29h4.5v4.5h-4.5zM349.29 227.44h4.5v4.5h-4.5zM352.13 228.31h4.5v4.5h-4.5zM354.97 228.70h4.5v4.5h-4.5zM357.81 229.00h4.5v4.5h-4.5zM360.65 229.19h4.5v4.5h-4.5zM363.49 229.25h4.5v4.5h-4.5zM366.33 229.26h4.5v4.5h-4.5zM369.17 229.27h4.5v4.5h-4.5zM372.01 229.28h4.5v4.5h-4.5zM374.86 229.29h4.5v4.5h-4.5zM377.70 229.29h4.5v4.5h-4.5zM380.54 229.30h4.5v4.5h-4.5zM383.38 229.30h4.5v4.5h-4.5zM386.22 229.30h4.5v4.5h-4.5zM389.06 229.30h4.5v4.5h-4.5zM391.90 229.30h4.5v4.5h-4.5zM394.74 229.30h4.5v4.5h-4.5zM397.58 229.31h4.5v4.5h-4.5zM400.42 229.31h4.5v4.5h-4.5zM403.27 229.32h4.5v4.5h-4.5zM406.11 229.32h4.5v4.5h-4.5zM408.95 229.33h4.5v4.5h-4.5zM411.79 229.35h4.5v4.5h-4.5zM414.63 229.40h4.5v4.5h-4.5zM417.47 229.62h4.5v4.5h-4.5zM420.31 229.97h4.5v4.5h-4.5zM423.15 230.40h4.5v4.5h-4.5zM425.99 231.21h4.5v4.5h-4.5zM428.83 232.42h4.5v4.5h-4.5zM431.68 233.87h4.5v4.5h-4.5zM434.52 235.81h4.5v4.5h-4.5zM437.36 238.14h4.5v4.5h-4.5zM440.20 240.86h4.5v4.5h-4.5zM443.04 244.12h4.5v4.5h-4.5zM445.88 247.56h4.5v4.5h-4.5zM448.72 250.80h4.5v4.5h-4.5zM451.56 253.88h4.5v4.5h-4.5zM454.40 256.92h4.5v4.5h-4.5zM457.24 259.94h4.5v4.5h-4.5zM460.09 262.96h4.5v4.5h-4.5zM462.93 265.99h4.5v4.5h-4.5zM465.77 269.01h4.5v4.5h-4.5zM468.61 272.02h4.5v4.5h-4.5zM471.45 275.04h4.5v4.5h-4.5zM474.29 278.07h4.5v4.5h-4.5zM477.13 281.11h4.5v4.5h-4.5zM479.97 284.15h4.5v4.5h-4.5zM482.81 287.20h4.5v4.5h-4.5z" fill="#ff3300"/>
<g fill="#1c1ca4">
<circle cx="78.80" cy="261.40" r="1.4"/>
<circle cx="81.64" cy="261.40" r="1.4"/>
<circle cx="84.48" cy="261.40" r="1.4"/>
<circle cx="87.32" cy="261.40" r="1.4"/>
<circle cx="90.16" cy="261.40" r="1.4"/>
<circle cx="93.00" cy="261.40" r="1.4"/>
<circle cx="95.85" cy="261.40" r="1.4"/>
<circle cx="98.69" cy="261.40" r="1.4"/>
<circle cx="101.53" cy="261.40" r="1.4"/>
<circle cx="104.37" cy="261.40" r="1.4"/>
<circle cx="107.21" cy="261.40" r="1.4"/>
<circle cx="110.05" cy="261.40" r="1.4"/>
<circle cx="112.89" cy="261.40" r="1.4"/>
<circle cx="115.73" cy="261.40" r="1.4"/>
<circle cx="118.57" cy="261.40" r="1.4"/>
<circle cx="121.41" cy="261.40" r="1.4"/>
<circle cx="124.26" cy="261.40" r="1.4"/>
<circle cx="127.10" cy="261.40" r="1.4"/>
<circle cx="129.94" cy="261.40" r="1.4"/>
<circle cx="132.78" cy="261.40" r="1.4"/>
<circle cx="135.62" cy="261.40" r="1.4"/>
<circle cx="138.46" cy="261.40" r="1.4"/>
<circle cx="141.30" cy="261.40" r="1.4"/>
<circle cx="144.14" cy="261.40" r="1.4"/>
<circle cx="146.98" cy="261.40" r="1.4"/>
<circle cx="149.82" cy="261.40" r="1.4"/>
<circle cx="152.67" cy="261.40" r="1.4"/>
<circle cx="155.51" cy="261.40" r="1.4"/>
<circle cx="158.35" cy="261.40" r="1.4"/>
<circle cx="161.19" cy="261.40" r="1.4"/>
<circle cx="164.03" cy="261.40" r="1.4"/>
<circle cx="166.87" cy="261.40" r="1.4"/>
<circle cx="169.71" cy="261.40" r="1.4"/>
<circle cx="172.55" cy="261.40" r="1.4"/>
<circle cx="175.39" cy="261.40" r="1.4"/>
<circle cx="178.24" cy="261.40" r="1.4"/>
<circle cx="181.08" cy="261.40" r="1.4"/>
<circle cx="183.92" cy="261.40" r="1.4"/>
<circle cx="186.76" cy="261.40" r="1.4"/>
<circle cx="189.60" cy="261.40" r="1.4"/>
<circle cx="192.44" cy="261.40" r="1.4"/>
<circle cx="195.28" cy="261.40" r="1.4"/>
<circle cx="198.12" cy="261.40" r="1.4"/>
<circle cx="200.96" cy="261.40" r="1.4"/>
<circle cx="203.80" cy="261.40" r="1.4"/>
<circle cx="206.65" cy="261.40" r="1.4"/>
<circle cx="209.49" cy="261.40" r="1.4"/>
<circle cx="212.33" cy="261.40" r="1.4"/>
<circle cx="215.17" cy="261.40" r="1.4"/>
<circle cx="218.01" cy="261.40" r="1.4"/>
<circle cx="220.85" cy="261.40" r="1.4"/>
<circle cx="223.69" cy="261.40" r="1.4"/>
<circle cx="226.53" cy="261.40" r="1.4"/>
<circle cx="229.37" cy="261.40" r="1.4"/>
<circle cx="232.21" cy="261.40" r="1.4"/>
<circle cx="235.06" cy="261.40" r="1.4"/>
<circle cx="237.90" cy="261.40" r="1.4"/>
<circle cx="240.74" cy="261.40" r="1.4"/>
<circle cx="243.58" cy="261.40" r="1.4"/>
<circle cx="246.42" cy="261.40" r="1.4"/>
<circle cx="249.26" cy="261.40" r="1.4"/>
<circle cx="252.10" cy="261.40" r="1.4"/>
<circle cx="254.94" cy="261.40" r="1.4"/>
<circle cx="257.78" cy="261.40" r="1.4"/>
<circle cx="260.62" cy="261.40" r="1.4"/>
<circle cx="263.47" cy="261.40" r="1.4"/>
<circle cx="266.31" cy="261.40" r="1.4"/>
<circle cx="269.15" cy="261.40" r="1.4"/>
<circle cx="271.99" cy="261.40" r="1.4"/>
<circle cx="274.83" cy="261.40" r="1.4"/>
<circle cx="277.67" cy="261.40" r="1.4"/>
<circle cx="280.51" cy="261.40" r="1.4"/>
<circle cx="283.35" cy="261.40" r="1.4"/>
<circle cx="286.19" cy="261.40" r="1.4"/>
<circle cx="289.03" cy="261.40" r="1.4"/>
<circle cx="291.88" cy="261.40" r="1.4"/>
<circle cx="294.72" cy="261.40" r="1.4"/>
<circle cx="297.56" cy="261.40" r="1.4"/>
<circle cx="300.40" cy="261.40" r="1.4"/>
<circle cx="303.24" cy="261.40" r="1.4"/>
<circle cx="306.08" cy="261.40" r="1.4"/>
<circle cx="308.92" cy="261.40" r="1.4"/>
<circle cx="311.76" cy="261.40" r="1.4"/>
<circle cx="314.60" cy="261.40" r="1.4"/>
<circle cx="317.44" cy="261.40" r="1.4"/>
<circle cx="320.29" cy="261.40" r="1.4"/>
<circle cx="323.13" cy="261.40" r="1.4"/>
<circle cx="325.97" cy="261.40" r="1.4"/>
<circle cx="328.81" cy="261.40" r="1.4"/>
<circle cx="331.65" cy="261.40" r="1.4"/>
<circle cx="334.49" cy="261.40" r="1.4"/>
<circle cx="337.33" cy="261.40" r="1.4"/>
<circle cx="340.17" cy="261.40" r="1.4"/>
<circle cx="343.01" cy="261.40" r="1.4"/>
<circle cx="345.85" cy="261.40" r="1.4"/>
<circle cx="348.70" cy="261.40" r="1.4"/>
<circle cx="351.54" cy="261.40" r="1.4"/>
<circle cx="354.38" cy="261.40" r="1.4"/>
<circle cx="357.22" cy="261.40" r="1.4"/>
<circle cx="360.06" cy="261.40" r="1.4"/>
<circle cx="362.90" cy="261.40" r="1.4"/>
<circle cx="365.74" cy="261.40" r="1.4"/>
<circle cx="368.58" cy="261.40" r="1.4"/>
<circle cx="371.42" cy="261.40" r="1.4"/>
<circle cx="374.26" cy="261.40" r="1.4"/>
<circle cx="377.11" cy="261.40" r="1.4"/>
<circle cx="379.95" cy="261.40" r="1.4"/>
<circle cx="382.79" cy="261.40" r="1.4"/>
<circle cx="385.63" cy="261.40" r="1.4"/>
<circle cx="388.47" cy="261.49" r="1.4"/>
<circle cx="391.31" cy="262.03" r="1.4"/>
<circle cx="394.15" cy="263.38" r="1.4"/>
<circle cx="396.99" cy="265.15" r="1.4"/>
<circle cx="399.83" cy="267.47" r="1.4"/>
<circle cx="402.67" cy="270.06" r="1.4"/>
<circle cx="405.52" cy="272.21" r="1.4"/>
<circle cx="408.36" cy="275.16" r="1.4"/>
<circle cx="411.20" cy="278.31" r="1.4"/>
<circle cx="414.04" cy="281.87" r="1.4"/>
<circle cx="416.88" cy="285.40" r="1.4"/>
<circle cx="419.72" cy="289.33" r="1.4"/>
<circle cx="422.56" cy="293.19" r="1.4"/>
<circle cx="425.40" cy="297.50" r="1.4"/>
<circle cx="428.24" cy="302.13" r="1.4"/>
<circle cx="431.08" cy="306.84" r="1.4"/>
<circle cx="433.93" cy="311.82" r="1.4"/>
<circle cx="436.77" cy="316.81" r="1.4"/>
<circle cx="439.61" cy="321.71" r="1.4"/>
<circle cx="442.45" cy="326.57" r="1.4"/>
<circle cx="445.29" cy="331.40" r="1.4"/>
<circle cx="448.13" cy="336.19" r="1.4"/>
<circle cx="450.97" cy="340.92" r="1.4"/>
<circle cx="453.81" cy="345.59" r="1.4"/>
<circle cx="456.65" cy="350.20" r="1.4"/>
</g>
<g stroke="#000" stroke-width="1.25">
<line x1="129.8" y1="15.45" x2="129.8" y2="365.3"/>
<line x1="425.45" y1="15.45" x2="425.45" y2="365.3"/>
</g>
<g font-family="'Liberation Sans', sans-serif" font-size="13.33px" fill="#000" transform="scale(0.975,1)">
<text x="73.03" y="335.4" text-anchor="end">50</text>
<text x="73.03" y="300.4" text-anchor="end">100</text>
<text x="73.03" y="265.4" text-anchor="end">150</text>
<text x="73.03" y="230.4" text-anchor="end">200</text>
<text x="73.03" y="195.1" text-anchor="end">250</text>
<text x="73.03" y="159.9" text-anchor="end">300</text>
<text x="73.03" y="124.5" text-anchor="end">350</text>
<text x="73.03" y="89.5" text-anchor="end">400</text>
<text x="73.03" y="54.4" text-anchor="end">450</text>
<text x="73.03" y="19.3" text-anchor="end">500</text>
<text x="112.00" y="383" text-anchor="middle">330</text>
<text x="170.26" y="383" text-anchor="middle">340</text>
<text x="228.51" y="383" text-anchor="middle">350</text>
<text x="286.77" y="383" text-anchor="middle">360</text>
<text x="345.03" y="383" text-anchor="middle">370</text>
<text x="403.28" y="383" text-anchor="middle">380</text>
<text x="461.54" y="383" text-anchor="middle">390</text>
<text x="519.79" y="383" text-anchor="middle">400</text>
<text x="578.05" y="383" text-anchor="middle">410</text>
<text x="328.72" y="402" text-anchor="middle">t [s]</text>
<text x="349.33" y="292.2" text-anchor="end">Vehicle 509</text>
<text x="349.33" y="305.2" text-anchor="end">Lead Vehicle 511</text>
<text x="349.33" y="318.1" text-anchor="end">Test Vehicle 528</text>
<text x="349.33" y="330.9" text-anchor="end">Vehicle 487</text>
<text x="349.33" y="343.6" text-anchor="end">calibration range</text>
</g>
<g font-family="'Liberation Sans', sans-serif" font-size="13.33px" fill="#000"><text transform="translate(29.9,190.8) rotate(-90) scale(0.975,1)" text-anchor="middle">Long coordinate [m]</text></g>
<rect x="365.1" y="287.3" width="1.8" height="1.8" fill="#cf1238"/>
<rect x="364.15" y="299.25" width="4.5" height="4.5" fill="#00a8a8"/>
<rect x="364.15" y="312.05" width="4.5" height="4.5" fill="#ff3300"/>
<circle cx="366.3" cy="327.2" r="1.3" fill="#1c1ca4"/>
<line x1="349.4" y1="339.5" x2="383.6" y2="339.5" stroke="#000" stroke-width="1.4"/>
</svg>
</body></html>
